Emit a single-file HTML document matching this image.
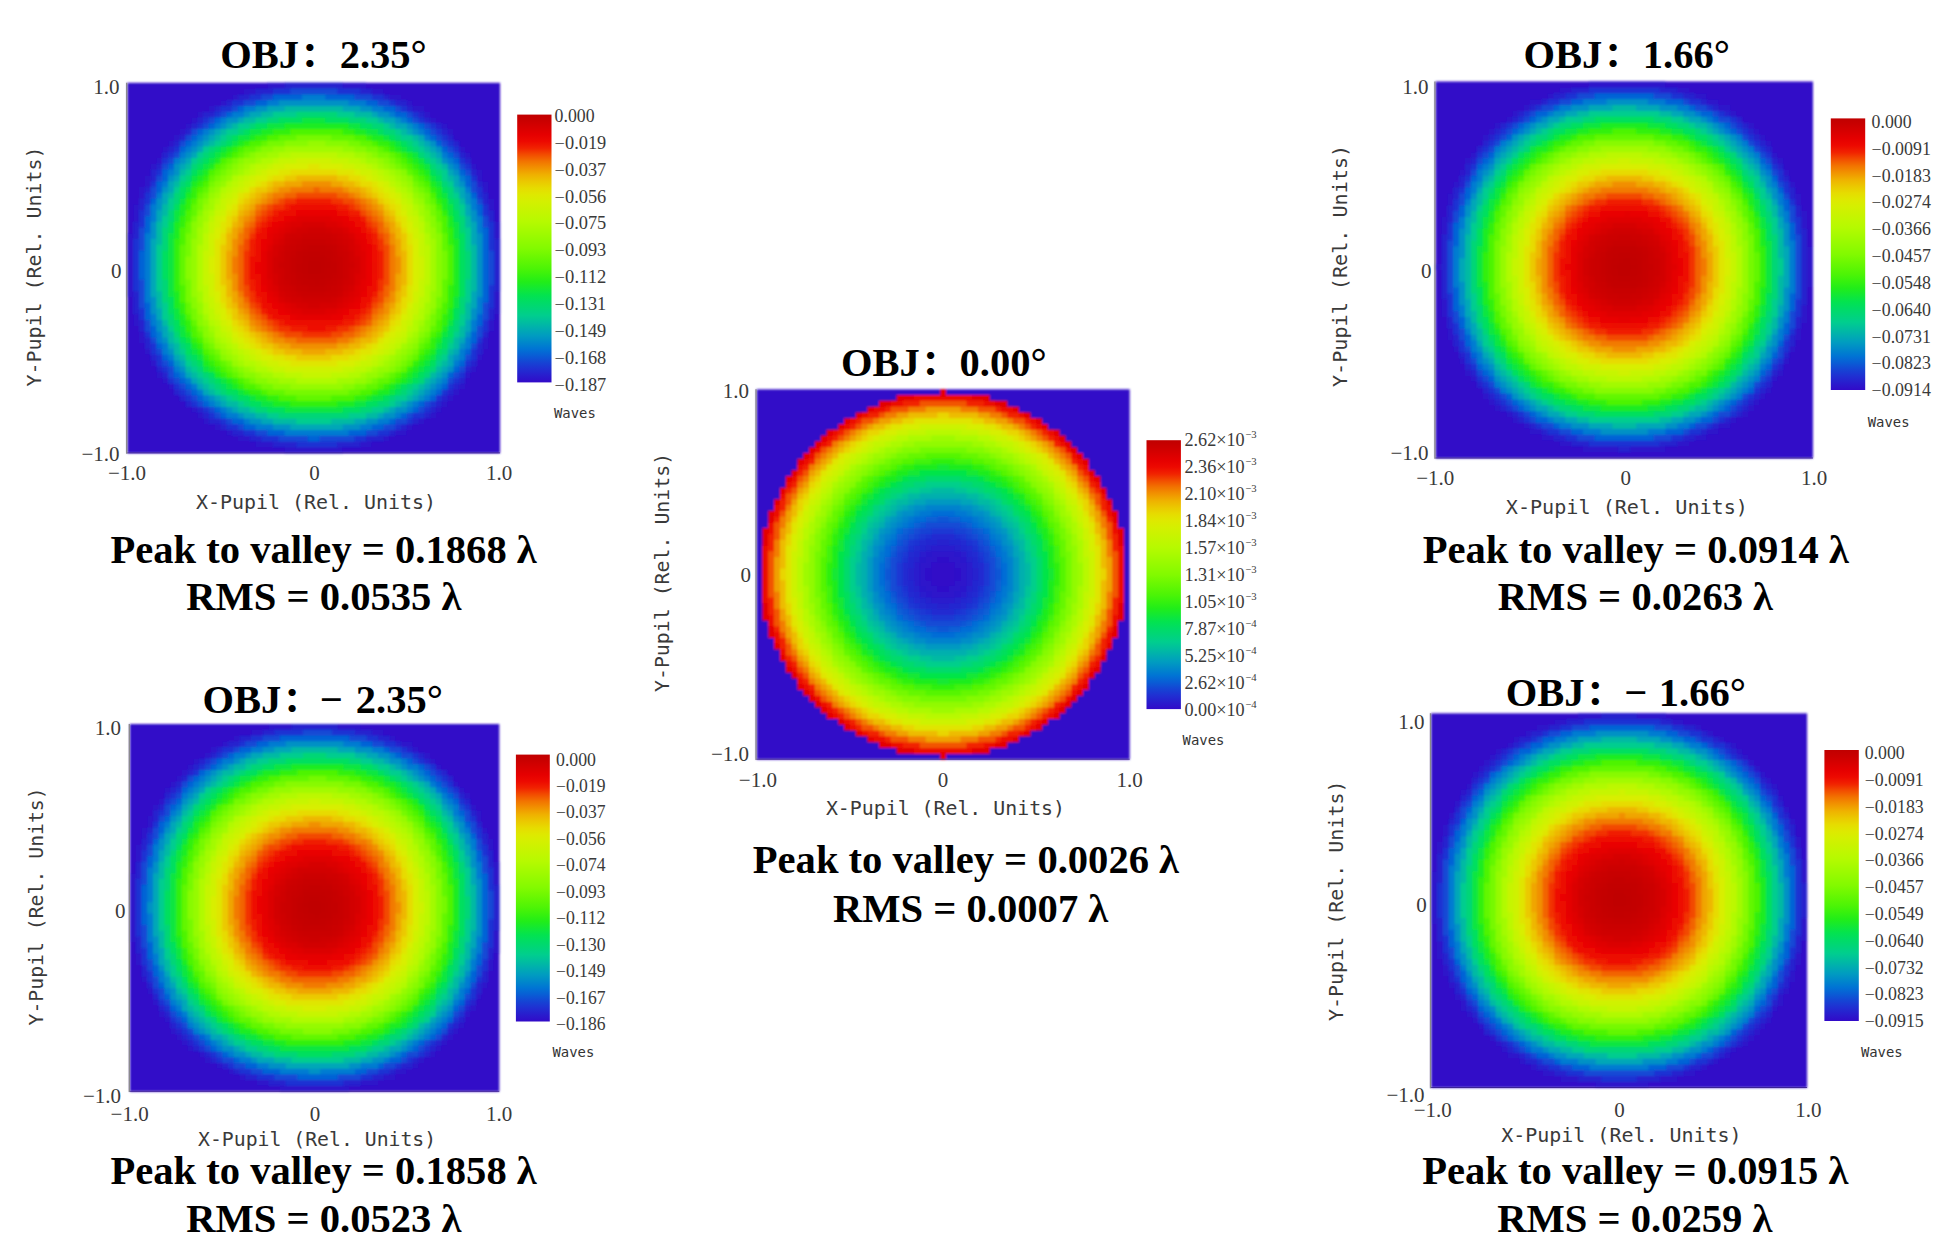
<!DOCTYPE html>
<html><head><meta charset="utf-8"><title>Wavefront maps</title>
<style>html,body{margin:0;padding:0;background:#fff}svg{display:block}</style></head>
<body><svg width="1952" height="1257" viewBox="0 0 1952 1257">
<defs><filter id="bl" x="-2%" y="-2%" width="104%" height="104%"><feGaussianBlur stdDeviation="1"/></filter>
<linearGradient id="cb" x1="0" y1="0" x2="0" y2="1"><stop offset="0.0000" stop-color="#c00000"/><stop offset="0.0250" stop-color="#cb0000"/><stop offset="0.0500" stop-color="#d80000"/><stop offset="0.0750" stop-color="#e50000"/><stop offset="0.1000" stop-color="#ed0900"/><stop offset="0.1250" stop-color="#f12200"/><stop offset="0.1500" stop-color="#f24d00"/><stop offset="0.1750" stop-color="#f27400"/><stop offset="0.2000" stop-color="#f19300"/><stop offset="0.2250" stop-color="#efb100"/><stop offset="0.2500" stop-color="#ebc800"/><stop offset="0.2750" stop-color="#e6dc00"/><stop offset="0.3000" stop-color="#dee900"/><stop offset="0.3250" stop-color="#d4f000"/><stop offset="0.3500" stop-color="#caf300"/><stop offset="0.3750" stop-color="#c0f700"/><stop offset="0.4000" stop-color="#b6fa00"/><stop offset="0.4250" stop-color="#a9fa00"/><stop offset="0.4500" stop-color="#9cfa00"/><stop offset="0.4750" stop-color="#8ffa00"/><stop offset="0.5000" stop-color="#82fa00"/><stop offset="0.5250" stop-color="#70f801"/><stop offset="0.5500" stop-color="#5ef603"/><stop offset="0.5750" stop-color="#4cf406"/><stop offset="0.6000" stop-color="#36f10e"/><stop offset="0.6250" stop-color="#21ed19"/><stop offset="0.6500" stop-color="#12e834"/><stop offset="0.6750" stop-color="#03e34f"/><stop offset="0.7000" stop-color="#00dc65"/><stop offset="0.7250" stop-color="#00d579"/><stop offset="0.7500" stop-color="#00ce8e"/><stop offset="0.7750" stop-color="#00be9f"/><stop offset="0.8000" stop-color="#00adb0"/><stop offset="0.8250" stop-color="#009cc0"/><stop offset="0.8500" stop-color="#0088ca"/><stop offset="0.8750" stop-color="#0074d4"/><stop offset="0.9000" stop-color="#095dd5"/><stop offset="0.9250" stop-color="#1544d4"/><stop offset="0.9500" stop-color="#202fd2"/><stop offset="0.9750" stop-color="#291ccd"/><stop offset="1.0000" stop-color="#320ac8"/></linearGradient></defs>
<rect width="1952" height="1257" fill="#fff"/>
<g filter="url(#bl)"><g transform="translate(127.30 82.80) scale(5.82500 5.78750)">
<rect width="64" height="64" fill="#320ac8"/>
<path fill="#2e12ca" d="M24 0H41V1H44V2H47V3H49V4H51V5H52V6H53V7H55V8H56V10H57V11H58V12H59V14H60V15H61V17H62V20H63V24H64V40H63V43H62V46H61V48H60V50H59V51H58V53H57V54H56V55H55V56H54V57H53V58H51V59H49V60H48V61H45V62H42V63H37V64H27V63H22V62H19V61H17V60H15V59H13V58H12V57H11V56H10V55H9V54H8V53H7V52H6V51H5V49H4V47H3V45H2V42H1V37H0V26H1V21H2V18H3V16H4V14H5V13H6V11H7V10H8V9H9V8H10V7H11V6H12V5H14V4H16V3H18V2H20V1H24V0Z"/>
<path fill="#2622ce" d="M27 0H37V1H42V2H45V3H48V4H49V5H51V6H52V7H54V8H55V9H56V10H57V12H58V13H59V15H60V17H61V19H62V22H63V27H64V36H63V41H62V44H61V47H60V49H59V50H58V52H57V53H56V54H55V55H54V56H53V57H52V58H50V59H48V60H46V61H44V62H40V63H25V62H21V61H18V60H16V59H14V58H13V57H12V56H10V55H9V54H8V52H7V51H6V50H5V48H4V46H3V43H2V40H1V24H2V20H3V18H4V15H5V14H6V12H7V11H8V10H9V9H10V8H11V7H12V6H13V5H15V4H17V3H19V2H22V1H27V0Z"/>
<path fill="#1e33d3" d="M25 1H40V2H44V3H46V4H48V5H50V6H51V7H53V8H54V9H55V10H56V11H57V13H58V14H59V16H60V18H61V21H62V24H63V39H62V43H61V45H60V48H59V49H58V51H57V52H56V53H55V54H54V55H53V56H52V57H51V58H49V59H47V60H45V61H41V62H36V63H29V62H23V61H20V60H17V59H16V58H14V57H13V56H11V55H10V54H9V53H8V52H7V50H6V49H5V47H4V44H3V41H2V36H1V27H2V22H3V19H4V17H5V15H6V13H7V12H8V11H9V10H10V9H11V8H12V7H13V6H15V5H16V4H18V3H21V2H25V1Z"/>
<path fill="#124ad5" d="M28 1H36V2H42V3H45V4H47V5H49V6H50V7H52V8H53V9H54V10H55V11H56V12H57V14H58V15H59V17H60V20H61V23H62V29H63V35H62V41H61V44H60V46H59V48H58V50H57V51H56V52H55V53H54V54H53V55H52V56H51V57H49V58H48V59H46V60H43V61H39V62H26V61H22V60H19V59H17V58H15V57H14V56H12V55H11V54H10V53H9V52H8V51H7V49H6V47H5V45H4V43H3V39H2V25H3V21H4V18H5V16H6V14H7V13H8V12H9V10H10V9H11V8H13V7H14V6H16V5H18V4H20V3H23V2H28V1Z"/>
<path fill="#0663d6" d="M25 2H39V3H43V4H46V5H48V6H49V7H51V8H52V9H53V10H54V11H55V12H56V13H57V15H58V16H59V19H60V21H61V25H62V38H61V42H60V45H59V47H58V49H57V50H56V51H55V53H54V54H53V55H51V56H50V57H48V58H46V59H44V60H41V61H33V62H31V61H24V60H20V59H18V58H16V57H15V56H13V55H12V54H11V53H10V52H9V51H8V49H7V48H6V46H5V44H4V41H3V34H2V29H3V23H4V20H5V17H6V15H7V14H8V13H9V11H10V10H11V9H12V8H14V7H15V6H17V5H19V4H22V3H25V2Z"/>
<path fill="#007bd1" d="M30 2H34V3H41V4H44V5H46V6H48V7H50V8H51V9H52V10H53V11H54V12H55V13H56V14H57V16H58V18H59V20H60V23H61V40H60V43H59V46H58V48H57V49H56V50H55V52H54V53H53V54H52V55H50V56H49V57H47V58H45V59H42V60H38V61H27V60H22V59H20V58H17V57H16V56H14V55H13V54H12V53H11V52H10V51H9V50H8V48H7V47H6V45H5V42H4V38H3V26H4V21H5V19H6V17H7V15H8V13H9V12H10V11H11V10H12V9H13V8H15V7H16V6H18V5H20V4H24V3H30V2Z"/>
<path fill="#0091c5" d="M26 3H38V4H42V5H45V6H47V7H49V8H50V9H51V10H53V11H54V13H55V14H56V15H57V17H58V19H59V22H60V26H61V37H60V41H59V44H58V46H57V48H56V50H55V51H54V52H53V53H52V54H51V55H49V56H48V57H46V58H43V59H40V60H25V59H21V58H19V57H17V56H15V55H14V54H13V53H12V52H11V51H10V50H9V49H8V47H7V45H6V43H5V40H4V24H5V20H6V18H7V16H8V14H9V13H10V12H11V11H12V10H13V9H14V8H16V7H17V6H20V5H22V4H26V3Z"/>
<path fill="#00a7b7" d="M24 4H40V5H43V6H46V7H48V8H49V9H51V10H52V11H53V12H54V14H55V15H56V16H57V18H58V21H59V24H60V39H59V43H58V45H57V47H56V49H55V50H54V51H53V52H52V53H51V54H50V55H48V56H46V57H44V58H41V59H37V60H28V59H23V58H20V57H18V56H16V55H15V54H13V53H12V52H11V51H10V49H9V48H8V46H7V44H6V41H5V37H4V27H5V22H6V19H7V17H8V16H9V14H10V13H11V12H12V11H13V10H14V9H15V8H17V7H19V6H21V5H24V4Z"/>
<path fill="#00baa3" d="M27 4H37V5H42V6H44V7H46V8H48V9H50V10H51V11H52V12H53V13H54V14H55V16H56V18H57V20H58V23H59V28H60V36H59V41H58V44H57V46H56V47H55V49H54V50H53V51H52V52H51V53H50V54H49V55H47V56H45V57H43V58H39V59H25V58H22V57H19V56H17V55H16V54H14V53H13V52H12V51H11V50H10V48H9V47H8V45H7V42H6V39H5V24H6V21H7V19H8V17H9V15H10V14H11V13H12V12H13V11H14V10H15V9H16V8H18V7H20V6H23V5H27V4Z"/>
<path fill="#00cd8f" d="M25 5H39V6H43V7H45V8H47V9H49V10H50V11H51V12H52V13H53V14H54V15H55V17H56V19H57V21H58V25H59V38H58V42H57V44H56V46H55V48H54V49H53V50H52V51H51V52H50V53H49V54H48V55H46V56H44V57H41V58H35V59H29V58H24V57H21V56H19V55H17V54H15V53H14V52H13V51H12V50H11V49H10V47H9V45H8V43H7V41H6V36H5V28H6V23H7V20H8V18H9V16H10V15H11V13H12V12H13V11H15V10H16V9H17V8H19V7H22V6H25V5Z"/>
<path fill="#00d676" d="M29 5H36V6H41V7H44V8H46V9H47V10H49V11H50V12H51V13H52V14H53V15H54V17H55V18H56V20H57V23H58V29H59V34H58V40H57V43H56V45H55V47H54V48H53V50H52V51H51V52H49V53H48V54H46V55H45V56H42V57H38V58H26V57H22V56H20V55H18V54H16V53H15V52H14V51H13V50H12V49H11V48H10V46H9V44H8V42H7V38H6V25H7V22H8V19H9V17H10V16H11V14H12V13H13V12H14V11H16V10H17V9H19V8H21V7H24V6H29V5Z"/>
<path fill="#00df5e" d="M26 6H38V7H42V8H44V9H46V10H48V11H49V12H50V13H51V14H52V15H53V16H54V18H55V20H56V22H57V26H58V37H57V41H56V44H55V46H54V47H53V49H52V50H51V51H50V52H48V53H47V54H45V55H43V56H40V57H24V56H21V55H19V54H17V53H16V52H15V51H14V50H13V49H12V48H11V47H10V45H9V43H8V40H7V34H6V29H7V24H8V21H9V18H10V17H11V15H12V14H13V13H14V12H15V11H17V10H18V9H20V8H22V7H26V6Z"/>
<path fill="#0be641" d="M30 6H34V7H40V8H43V9H45V10H47V11H48V12H50V13H51V14H52V16H53V17H54V19H55V21H56V24H57V39H56V42H55V44H54V46H53V48H52V49H51V50H50V51H49V52H47V53H46V54H44V55H41V56H37V57H27V56H23V55H21V54H19V53H17V52H16V51H15V50H13V48H12V47H11V45H10V44H9V41H8V37H7V26H8V22H9V20H10V18H11V16H12V15H13V14H14V13H15V12H16V11H18V10H19V9H21V8H24V7H30V6Z"/>
<path fill="#1dec21" d="M27 7H38V8H41V9H44V10H46V11H47V12H49V13H50V14H51V15H52V17H53V18H54V20H55V23H56V27H57V37H56V41H55V43H54V45H53V47H52V48H51V49H50V50H49V51H48V52H46V53H45V54H42V55H39V56H25V55H22V54H20V53H18V52H17V51H15V50H14V49H13V47H12V46H11V44H10V42H9V39H8V24H9V21H10V19H11V17H12V16H13V15H14V14H15V13H16V12H17V11H19V10H21V9H23V8H27V7Z"/>
<path fill="#33f00f" d="M25 8H39V9H42V10H45V11H46V12H48V13H49V14H50V15H51V16H52V18H53V20H54V22H55V25H56V39H55V42H54V44H53V46H52V47H51V48H50V49H49V50H48V51H47V52H45V53H43V54H41V55H36V56H28V55H24V54H21V53H19V52H18V51H16V50H15V49H14V48H13V46H12V45H11V43H10V40H9V36H8V27H9V23H10V20H11V18H12V17H13V16H14V15H15V14H16V13H17V12H18V11H20V10H22V9H25V8Z"/>
<path fill="#4df405" d="M28 8H37V9H41V10H43V11H45V12H47V13H48V14H49V15H50V16H51V17H52V19H53V21H54V23H55V28H56V35H55V40H54V43H53V44H52V46H51V47H50V48H49V49H48V50H47V51H46V52H44V53H42V54H39V55H26V54H23V53H20V52H19V51H17V50H16V49H15V48H14V47H13V45H12V44H11V41H10V38H9V25H10V22H11V20H12V18H13V17H14V15H15V14H16V13H18V12H19V11H21V10H24V9H28V8Z"/>
<path fill="#62f703" d="M26 9H39V10H42V11H44V12H46V13H47V14H48V15H49V16H50V17H51V18H52V20H53V22H54V26H55V38H54V41H53V43H52V45H51V46H50V48H49V49H48V50H46V51H45V52H43V53H40V54H35V55H29V54H24V53H22V52H20V51H18V50H17V49H16V48H15V47H14V46H13V44H12V42H11V40H10V35H9V28H10V24H11V21H12V19H13V18H14V16H15V15H16V14H17V13H19V12H20V11H23V10H26V9Z"/>
<path fill="#76f901" d="M29 9H35V10H40V11H43V12H45V13H46V14H47V15H48V16H49V17H50V18H51V19H52V21H53V24H54V29H55V34H54V39H53V42H52V44H51V45H50V47H49V48H48V49H47V50H45V51H43V52H41V53H38V54H27V53H23V52H21V51H19V50H18V49H17V48H16V47H15V46H14V45H13V43H12V41H11V38H10V26H11V23H12V20H13V19H14V17H15V16H16V15H17V14H18V13H20V12H22V11H24V10H29V9Z"/>
<path fill="#88fa00" d="M27 10H38V11H41V12H43V13H45V14H46V15H48V16H49V18H50V19H51V21H52V23H53V26H54V37H53V40H52V43H51V44H50V46H49V47H48V48H47V49H46V50H44V51H42V52H39V53H25V52H22V51H20V50H19V49H18V48H16V46H15V45H14V44H13V42H12V39H11V34H10V30H11V24H12V22H13V20H14V18H15V17H16V16H17V15H18V14H19V13H21V12H23V11H27V10Z"/>
<path fill="#96fa00" d="M31 10H34V11H39V12H42V13H44V14H45V15H47V16H48V17H49V19H50V20H51V22H52V25H53V39H52V41H51V43H50V45H49V46H48V47H47V48H46V49H45V50H43V51H41V52H37V53H28V52H24V51H22V50H20V49H18V48H17V47H16V46H15V44H14V42H13V40H12V37H11V27H12V23H13V21H14V19H15V18H16V17H17V16H18V15H19V14H20V13H22V12H25V11H31V10Z"/>
<path fill="#a3fa00" d="M27 11H37V12H41V13H43V14H44V15H46V16H47V17H48V18H49V20H50V21H51V24H52V27H53V36H52V40H51V42H50V44H49V45H48V46H47V47H46V48H45V49H43V50H41V51H39V52H26V51H23V50H21V49H19V48H18V47H17V46H16V45H15V43H14V41H13V38H12V25H13V22H14V20H15V19H16V18H17V17H18V16H19V15H20V14H22V13H24V12H27V11Z"/>
<path fill="#b1fa00" d="M26 12H39V13H41V14H43V15H45V16H46V17H47V18H48V19H49V21H50V23H51V26H52V38H51V41H50V43H49V44H48V45H47V46H46V47H45V48H44V49H42V50H40V51H36V52H29V51H25V50H22V49H20V48H19V47H18V46H17V45H16V44H15V42H14V40H13V36H12V28H13V24H14V22H15V20H16V18H17V17H18V16H20V15H21V14H23V13H26V12Z"/>
<path fill="#bcf800" d="M28 12H36V13H40V14H42V15H44V16H45V17H46V18H47V19H48V20H49V22H50V24H51V28H52V35H51V39H50V41H49V43H48V45H47V46H46V47H44V48H43V49H41V50H38V51H27V50H24V49H22V48H20V47H19V46H18V45H17V44H16V42H15V41H14V38H13V26H14V23H15V21H16V19H17V18H18V17H19V16H21V15H22V14H25V13H28V12Z"/>
<path fill="#c6f500" d="M26 13H38V14H41V15H43V16H44V17H45V18H46V19H47V20H48V21H49V23H50V26H51V37H50V40H49V42H48V44H47V45H46V46H45V47H43V48H42V49H39V50H35V51H30V50H25V49H23V48H21V47H20V46H19V45H18V44H17V43H16V41H15V39H14V35H13V29H14V24H15V22H16V20H17V19H18V18H19V17H20V16H22V15H24V14H26V13Z"/>
<path fill="#cff200" d="M29 13H35V14H39V15H42V16H43V17H45V18H46V19H47V21H48V23H49V25H50V30H51V34H50V38H49V41H48V43H47V44H46V45H45V46H44V47H42V48H40V49H37V50H27V49H24V48H22V47H21V46H19V45H18V43H17V42H16V40H15V37H14V26H15V23H16V22H17V20H18V19H19V18H20V17H21V16H23V15H25V14H29V13Z"/>
<path fill="#d8ef00" d="M27 14H37V15H40V16H42V17H44V18H45V19H46V20H47V22H48V24H49V27H50V36H49V39H48V41H47V43H46V44H45V45H44V46H43V47H41V48H39V49H26V48H23V47H22V46H20V45H19V44H18V42H17V41H16V38H15V33H14V30H15V25H16V23H17V21H18V20H19V19H20V18H21V17H22V16H24V15H27V14Z"/>
<path fill="#e0e500" d="M31 14H33V15H39V16H41V17H43V18H44V19H45V20H46V21H47V23H48V26H49V38H48V40H47V42H46V43H45V44H44V45H43V46H42V47H40V48H36V49H28V48H25V47H23V46H21V45H20V44H19V43H18V41H17V39H16V36H15V27H16V24H17V22H18V21H19V19H21V18H22V17H24V16H26V15H31V14Z"/>
<path fill="#e7db00" d="M28 15H36V16H40V17H42V18H43V19H44V20H45V21H46V23H47V25H48V28H49V35H48V39H47V41H46V42H45V43H44V44H43V45H42V46H40V47H38V48H27V47H24V46H22V45H21V44H20V43H19V42H18V40H17V38H16V26H17V23H18V22H19V20H20V19H21V18H23V17H25V16H28V15Z"/>
<path fill="#ebc900" d="M27 16H38V17H40V18H42V19H43V20H44V21H45V22H46V24H47V26H48V37H47V40H46V41H45V43H44V44H43V45H41V46H39V47H35V48H29V47H25V46H23V45H22V44H21V43H20V42H19V41H18V39H17V35H16V28H17V25H18V23H19V21H20V20H21V19H22V18H24V17H27V16Z"/>
<path fill="#eeb700" d="M29 16H36V17H39V18H41V19H42V20H43V21H44V22H45V23H46V25H47V29H48V35H47V38H46V40H45V42H44V43H43V44H42V45H40V46H37V47H27V46H25V45H23V44H22V43H21V42H20V41H19V39H18V37H17V26H18V24H19V22H20V21H21V20H22V19H24V18H25V17H29V16Z"/>
<path fill="#f0a500" d="M27 17H37V18H40V19H41V20H43V21H44V23H45V24H46V27H47V36H46V39H45V41H44V42H43V43H42V44H40V45H38V46H34V47H30V46H26V45H24V44H23V43H21V41H20V40H19V38H18V34H17V29H18V25H19V23H20V22H21V21H22V20H23V19H25V18H27V17Z"/>
<path fill="#f18f00" d="M30 17H35V18H38V19H40V20H42V21H43V22H44V24H45V26H46V30H47V33H46V38H45V40H44V41H43V42H42V43H41V44H39V45H36V46H28V45H25V44H24V43H22V42H21V40H20V39H19V36H18V27H19V25H20V23H21V22H22V21H23V20H24V19H26V18H30V17Z"/>
<path fill="#f27a00" d="M28 18H37V19H39V20H41V21H42V22H43V23H44V25H45V28H46V36H45V38H44V40H43V41H42V42H41V43H40V44H38V45H27V44H25V43H23V42H22V41H21V39H20V37H19V33H18V30H19V26H20V24H21V23H22V21H24V20H25V19H28V18Z"/>
<path fill="#f26300" d="M32 18H33V19H38V20H40V21H41V22H42V23H43V24H44V26H45V37H44V39H43V40H42V42H40V43H39V44H36V45H29V44H26V43H24V42H23V41H22V40H21V38H20V36H19V28H20V25H21V24H22V22H23V21H25V20H27V19H32V18Z"/>
<path fill="#f24a00" d="M29 19H36V20H39V21H40V22H41V23H42V24H43V26H44V28H45V35H44V38H43V39H42V41H41V42H39V43H37V44H27V43H25V42H24V41H23V40H22V39H21V37H20V27H21V25H22V23H23V22H24V21H26V20H29V19Z"/>
<path fill="#f23200" d="M27 20H37V21H39V22H40V23H41V24H42V25H43V27H44V36H43V38H42V40H41V41H40V42H38V43H35V44H30V43H26V42H25V41H24V40H23V39H22V38H21V35H20V29H21V26H22V24H23V23H24V22H25V21H27V20Z"/>
<path fill="#f01a00" d="M29 20H35V21H38V22H40V23H41V25H42V26H43V29H44V34H43V37H42V39H41V40H40V41H39V42H36V43H28V42H26V41H24V40H23V38H22V36H21V27H22V25H23V24H24V23H25V22H27V21H29V20Z"/>
<path fill="#ee0d00" d="M28 21H36V22H38V23H40V24H41V26H42V28H43V36H42V38H41V39H40V40H39V41H37V42H34V43H31V42H27V41H25V40H24V39H23V37H22V34H21V30H22V26H23V25H24V24H25V23H26V22H28V21Z"/>
<path fill="#ec0700" d="M30 21H34V22H37V23H39V24H40V25H41V27H42V31H43V33H42V37H41V38H40V39H39V40H38V41H36V42H29V41H26V40H25V39H24V38H23V35H22V28H23V26H24V24H26V23H27V22H30V21Z"/>
<path fill="#e90200" d="M29 22H36V23H38V24H39V25H40V26H41V28H42V35H41V37H40V39H38V40H37V41H28V40H26V39H25V38H24V36H23V33H22V31H23V27H24V25H25V24H27V23H29V22Z"/>
<path fill="#e50000" d="M28 23H37V24H38V25H39V26H40V27H41V36H40V38H39V39H37V40H35V41H29V40H27V39H26V38H25V37H24V35H23V29H24V26H25V25H26V24H28V23Z"/>
<path fill="#e00000" d="M29 23H35V24H37V25H38V26H39V27H40V29H41V34H40V37H39V38H38V39H36V40H28V39H27V38H26V37H25V36H24V28H25V26H26V25H27V24H29V23Z"/>
<path fill="#db0000" d="M28 24H36V25H38V26H39V28H40V35H39V37H38V38H37V39H34V40H30V39H28V38H26V36H25V34H24V29H25V27H26V26H27V25H28V24Z"/>
<path fill="#d60000" d="M30 24H34V25H37V26H38V27H39V30H40V33H39V36H38V37H37V38H36V39H29V38H27V37H26V35H25V28H26V27H27V26H28V25H30V24Z"/>
<path fill="#d20000" d="M29 25H35V26H37V27H38V29H39V35H38V36H37V37H36V38H33V39H31V38H28V37H27V36H26V33H25V30H26V28H27V26H29V25Z"/>
<path fill="#cf0000" d="M31 25H34V26H36V27H37V28H38V31H39V32H38V35H37V37H35V38H30V37H28V36H27V35H26V29H27V27H28V26H31V25Z"/>
<path fill="#cc0000" d="M30 26H35V27H36V28H37V29H38V34H37V36H36V37H29V36H28V35H27V32H26V31H27V28H28V27H30V26Z"/>
<path fill="#ca0000" d="M29 27H35V28H36V29H37V35H36V36H34V37H30V36H29V35H28V34H27V29H28V28H29V27Z"/>
<path fill="#c80000" d="M30 27H34V28H36V30H37V34H36V35H35V36H29V35H28V29H29V28H30V27Z"/>
<path fill="#c60000" d="M30 28H35V29H36V34H35V35H34V36H31V35H29V33H28V30H29V29H30V28Z"/>
<path fill="#c40000" d="M31 28H34V29H35V31H36V33H35V34H34V35H30V34H29V29H31V28Z"/>
<path fill="#c30000" d="M30 29H34V30H35V34H33V35H32V34H30V33H29V31H30V29Z"/>
<path fill="#c20000" d="M31 29H33V30H34V31H35V32H34V34H31V33H30V30H31V29Z"/>
<path fill="#c10000" d="M31 30H34V33H31V30Z"/>
<path fill="#c00000" d="M31 31H33V33H31V31Z"/>
<path fill="#c00000" d="M32 31H33V32H32V31Z"/>
</g></g>
<path d="M126.70 82.80V453.70" fill="none" stroke="#888" stroke-width="1.3"/>
<path d="M127.30 452.90H500.10" fill="none" stroke="#1c0078" stroke-width="1" opacity="0.7"/>
<rect x="517.20" y="114.60" width="34.30" height="267.80" fill="url(#cb)"/>
<text x="554.60" y="121.80" font-family="'Liberation Serif','Noto Serif CJK SC',serif" font-size="17.8" fill="#3a3a3a">0.000</text>
<text x="554.60" y="148.70" font-family="'Liberation Serif','Noto Serif CJK SC',serif" font-size="17.8" fill="#3a3a3a" textLength="51.7" lengthAdjust="spacingAndGlyphs">−0.019</text>
<text x="554.60" y="175.60" font-family="'Liberation Serif','Noto Serif CJK SC',serif" font-size="17.8" fill="#3a3a3a" textLength="51.7" lengthAdjust="spacingAndGlyphs">−0.037</text>
<text x="554.60" y="202.50" font-family="'Liberation Serif','Noto Serif CJK SC',serif" font-size="17.8" fill="#3a3a3a" textLength="51.7" lengthAdjust="spacingAndGlyphs">−0.056</text>
<text x="554.60" y="229.40" font-family="'Liberation Serif','Noto Serif CJK SC',serif" font-size="17.8" fill="#3a3a3a" textLength="51.7" lengthAdjust="spacingAndGlyphs">−0.075</text>
<text x="554.60" y="256.30" font-family="'Liberation Serif','Noto Serif CJK SC',serif" font-size="17.8" fill="#3a3a3a" textLength="51.7" lengthAdjust="spacingAndGlyphs">−0.093</text>
<text x="554.60" y="283.20" font-family="'Liberation Serif','Noto Serif CJK SC',serif" font-size="17.8" fill="#3a3a3a" textLength="51.7" lengthAdjust="spacingAndGlyphs">−0.112</text>
<text x="554.60" y="310.10" font-family="'Liberation Serif','Noto Serif CJK SC',serif" font-size="17.8" fill="#3a3a3a" textLength="51.7" lengthAdjust="spacingAndGlyphs">−0.131</text>
<text x="554.60" y="337.00" font-family="'Liberation Serif','Noto Serif CJK SC',serif" font-size="17.8" fill="#3a3a3a" textLength="51.7" lengthAdjust="spacingAndGlyphs">−0.149</text>
<text x="554.60" y="363.90" font-family="'Liberation Serif','Noto Serif CJK SC',serif" font-size="17.8" fill="#3a3a3a" textLength="51.7" lengthAdjust="spacingAndGlyphs">−0.168</text>
<text x="554.60" y="390.80" font-family="'Liberation Serif','Noto Serif CJK SC',serif" font-size="17.8" fill="#3a3a3a" textLength="51.7" lengthAdjust="spacingAndGlyphs">−0.187</text>
<text x="554.00" y="418.00" font-family="'DejaVu Sans Mono','Liberation Mono',monospace" font-size="13.9" fill="#333">Waves</text>
<text x="220.30" y="67.50" font-family="'Liberation Serif','Noto Serif CJK SC',serif" font-size="40.5" font-weight="bold" fill="#000">OBJ：</text>
<text x="339.70" y="67.50" font-family="'Liberation Serif','Noto Serif CJK SC',serif" font-size="40.5" font-weight="bold" fill="#000">2.35°</text>
<text x="119.50" y="93.70" font-family="'Liberation Serif','Noto Serif CJK SC',serif" font-size="21" fill="#3a3a3a" text-anchor="end">1.0</text>
<text x="121.50" y="278.00" font-family="'Liberation Serif','Noto Serif CJK SC',serif" font-size="21" fill="#3a3a3a" text-anchor="end">0</text>
<text x="119.50" y="460.60" font-family="'Liberation Serif','Noto Serif CJK SC',serif" font-size="21" fill="#3a3a3a" text-anchor="end">−1.0</text>
<text x="127.00" y="480.00" font-family="'Liberation Serif','Noto Serif CJK SC',serif" font-size="21" fill="#3a3a3a" text-anchor="middle">−1.0</text>
<text x="314.50" y="480.00" font-family="'Liberation Serif','Noto Serif CJK SC',serif" font-size="21" fill="#3a3a3a" text-anchor="middle">0</text>
<text x="499.00" y="480.00" font-family="'Liberation Serif','Noto Serif CJK SC',serif" font-size="21" fill="#3a3a3a" text-anchor="middle">1.0</text>
<text x="196.00" y="509.00" font-family="'DejaVu Sans Mono','Liberation Mono',monospace" font-size="19.95" fill="#3a3a3a">X-Pupil (Rel. Units)</text>
<text transform="translate(41.00 386.50) rotate(-90)" font-family="'DejaVu Sans Mono','Liberation Mono',monospace" font-size="19.95" fill="#3a3a3a">Y-Pupil (Rel. Units)</text>
<text x="110.50" y="563.00" font-family="'Liberation Serif','Noto Serif CJK SC',serif" font-size="40.6" font-weight="bold" fill="#000">Peak to valley = 0.1868 λ</text>
<text x="186.20" y="610.30" font-family="'Liberation Serif','Noto Serif CJK SC',serif" font-size="40.6" font-weight="bold" fill="#000">RMS = 0.0535 λ</text>
<g filter="url(#bl)"><g transform="translate(129.90 724.00) scale(5.77187 5.74375)">
<rect width="64" height="64" fill="#320ac8"/>
<path fill="#2e12ca" d="M24 0H40V1H44V2H46V3H49V4H50V5H52V6H53V7H54V8H55V9H56V10H57V11H58V12H59V14H60V15H61V18H62V20H63V24H64V40H63V43H62V46H61V48H60V50H59V51H58V53H57V54H56V55H55V56H54V57H53V58H51V59H50V60H48V61H46V62H43V63H38V64H26V63H22V62H19V61H17V60H15V59H13V58H12V57H10V56H9V55H8V54H7V52H6V51H5V49H4V47H3V45H2V42H1V38H0V26H1V21H2V18H3V16H4V14H5V13H6V11H7V10H8V9H9V8H10V7H11V6H13V5H14V4H16V3H18V2H21V1H24V0Z"/>
<path fill="#2622ce" d="M28 0H36V1H42V2H45V3H47V4H49V5H51V6H52V7H53V8H55V9H56V11H57V12H58V13H59V15H60V17H61V19H62V22H63V28H64V36H63V41H62V45H61V47H60V49H59V50H58V52H57V53H56V54H55V55H54V56H53V57H52V58H50V59H49V60H46V61H44V62H40V63H24V62H20V61H18V60H16V59H14V58H13V57H11V56H10V55H9V54H8V53H7V51H6V50H5V48H4V46H3V44H2V40H1V24H2V20H3V18H4V15H5V14H6V12H7V11H8V10H9V9H10V8H11V7H12V6H14V5H15V4H17V3H19V2H23V1H28V0Z"/>
<path fill="#1e33d3" d="M25 1H39V2H43V3H46V4H48V5H50V6H51V7H53V8H54V9H55V10H56V11H57V13H58V14H59V16H60V18H61V21H62V25H63V39H62V43H61V45H60V48H59V49H58V51H57V52H56V53H55V54H54V55H53V56H52V57H51V58H49V59H47V60H45V61H42V62H37V63H27V62H22V61H19V60H17V59H15V58H14V57H12V56H11V55H10V54H9V53H8V52H7V50H6V49H5V47H4V45H3V42H2V37H1V27H2V22H3V19H4V17H5V15H6V13H7V12H8V11H9V10H10V9H11V8H12V7H13V6H15V5H16V4H19V3H21V2H25V1Z"/>
<path fill="#124ad5" d="M30 1H35V2H41V3H44V4H47V5H49V6H50V7H52V8H53V9H54V10H55V11H56V12H57V14H58V15H59V17H60V20H61V23H62V29H63V34H62V41H61V44H60V46H59V48H58V50H57V51H56V52H55V54H54V55H52V56H51V57H50V58H48V59H46V60H43V61H40V62H25V61H21V60H18V59H16V58H15V57H13V56H12V55H11V54H10V53H9V52H8V51H7V49H6V48H5V46H4V43H3V39H2V24H3V21H4V18H5V16H6V14H7V13H8V12H9V10H10V9H12V8H13V7H14V6H16V5H18V4H20V3H23V2H30V1Z"/>
<path fill="#0663d6" d="M26 2H38V3H42V4H45V5H47V6H49V7H51V8H52V9H53V10H54V11H55V12H56V13H57V15H58V17H59V19H60V22H61V26H62V38H61V42H60V45H59V47H58V49H57V50H56V52H55V53H54V54H53V55H51V56H50V57H48V58H47V59H44V60H41V61H36V62H29V61H23V60H20V59H18V58H16V57H14V56H13V55H12V54H11V53H10V52H9V51H8V50H7V48H6V46H5V44H4V41H3V35H2V28H3V23H4V20H5V17H6V16H7V14H8V13H9V11H10V10H11V9H12V8H14V7H15V6H17V5H19V4H22V3H26V2Z"/>
<path fill="#007bd1" d="M24 3H40V4H44V5H46V6H48V7H50V8H51V9H52V10H53V11H54V12H55V13H56V14H57V16H58V18H59V20H60V24H61V40H60V43H59V46H58V48H57V49H56V51H55V52H54V53H53V54H52V55H50V56H49V57H47V58H45V59H43V60H39V61H26V60H22V59H19V58H17V57H15V56H14V55H13V54H11V53H10V51H9V50H8V49H7V47H6V45H5V42H4V38H3V25H4V21H5V19H6V17H7V15H8V14H9V12H10V11H11V10H12V9H13V8H15V7H16V6H18V5H21V4H24V3Z"/>
<path fill="#0091c5" d="M27 3H37V4H42V5H45V6H47V7H48V8H50V9H51V10H52V11H53V12H54V13H55V14H56V16H57V17H58V19H59V22H60V27H61V37H60V41H59V44H58V46H57V48H56V50H55V51H54V52H53V53H52V54H51V55H49V56H48V57H46V58H44V59H40V60H33V61H31V60H24V59H21V58H18V57H16V56H15V55H14V54H12V53H11V52H10V50H9V49H8V48H7V46H6V43H5V40H4V33H3V31H4V24H5V20H6V18H7V16H8V15H9V13H10V12H11V11H12V10H13V9H14V8H16V7H18V6H20V5H23V4H27V3Z"/>
<path fill="#00a7b7" d="M25 4H39V5H43V6H45V7H47V8H49V9H50V10H52V11H53V12H54V14H55V15H56V17H57V19H58V21H59V25H60V39H59V43H58V45H57V47H56V49H55V50H54V51H53V52H52V53H51V54H50V55H48V56H47V57H45V58H42V59H38V60H27V59H22V58H20V57H18V56H16V55H14V54H13V53H12V52H11V51H10V50H9V48H8V46H7V44H6V42H5V37H4V26H5V22H6V19H7V17H8V16H9V14H10V13H11V12H12V11H13V10H14V9H15V8H17V7H19V6H21V5H25V4Z"/>
<path fill="#00baa3" d="M28 4H36V5H41V6H44V7H46V8H48V9H49V10H51V11H52V12H53V13H54V15H55V16H56V18H57V20H58V23H59V28H60V36H59V41H58V44H57V46H56V48H55V49H54V50H53V51H52V52H51V53H50V54H49V55H47V56H45V57H43V58H40V59H25V58H21V57H19V56H17V55H16V54H14V53H13V52H12V51H11V50H10V48H9V47H8V45H7V43H6V39H5V24H6V21H7V19H8V17H9V15H10V14H11V13H12V12H13V11H14V10H15V9H16V8H18V7H20V6H23V5H28V4Z"/>
<path fill="#00cd8f" d="M26 5H39V6H42V7H45V8H47V9H48V10H50V11H51V12H52V13H53V14H54V16H55V17H56V19H57V22H58V25H59V38H58V42H57V44H56V46H55V48H54V49H53V51H52V52H50V53H49V54H48V55H46V56H44V57H41V58H37V59H28V58H23V57H20V56H18V55H17V54H15V53H14V52H13V51H12V50H11V49H10V47H9V46H8V44H7V41H6V36H5V27H6V23H7V20H8V18H9V16H10V15H11V14H12V12H13V11H15V10H16V9H18V8H20V7H22V6H26V5Z"/>
<path fill="#00d676" d="M30 5H34V6H40V7H43V8H45V9H47V10H49V11H50V12H51V13H52V14H53V15H54V17H55V19H56V21H57V24H58V30H59V34H58V40H57V43H56V45H55V47H54V48H53V50H52V51H51V52H50V53H48V54H47V55H45V56H42V57H39V58H25V57H22V56H20V55H18V54H16V53H15V52H14V51H13V50H12V49H11V48H10V46H9V44H8V42H7V39H6V25H7V22H8V19H9V17H10V16H11V14H12V13H13V12H14V11H16V10H17V9H19V8H21V7H24V6H30V5Z"/>
<path fill="#00df5e" d="M27 6H38V7H42V8H44V9H46V10H48V11H49V12H50V13H51V14H52V15H53V16H54V18H55V20H56V22H57V26H58V37H57V41H56V44H55V46H54V47H53V49H52V50H51V51H50V52H49V53H47V54H45V55H43V56H41V57H35V58H29V57H24V56H21V55H19V54H17V53H16V52H15V51H13V49H12V48H11V47H10V45H9V43H8V40H7V35H6V29H7V23H8V21H9V19H10V17H11V15H12V14H13V13H14V12H15V11H17V10H18V9H20V8H23V7H27V6Z"/>
<path fill="#0be641" d="M25 7H40V8H43V9H45V10H47V11H48V12H49V13H50V14H51V15H52V16H53V17H54V19H55V21H56V24H57V39H56V42H55V45H54V46H53V48H52V49H51V50H50V51H49V52H48V53H46V54H44V55H42V56H38V57H26V56H23V55H20V54H18V53H17V52H15V51H14V50H13V49H12V47H11V46H10V44H9V41H8V38H7V26H8V22H9V20H10V18H11V16H12V15H13V14H14V13H15V12H16V11H18V10H19V9H22V8H25V7Z"/>
<path fill="#1dec21" d="M28 7H37V8H41V9H44V10H46V11H47V12H48V13H50V14H51V16H52V17H53V18H54V20H55V23H56V27H57V36H56V41H55V43H54V45H53V47H52V48H51V49H50V50H49V51H48V52H47V53H45V54H43V55H40V56H25V55H22V54H19V53H18V52H16V51H15V50H14V49H13V48H12V46H11V45H10V42H9V39H8V24H9V21H10V19H11V17H12V16H13V15H14V14H15V13H16V12H17V11H19V10H21V9H23V8H28V7Z"/>
<path fill="#33f00f" d="M26 8H39V9H42V10H44V11H46V12H47V13H49V14H50V15H51V17H52V18H53V20H54V22H55V25H56V38H55V42H54V44H53V46H52V47H51V48H50V49H49V50H48V51H47V52H45V53H44V54H41V55H37V56H27V55H23V54H21V53H19V52H17V51H16V50H15V49H14V48H13V47H12V45H11V43H10V41H9V37H8V27H9V23H10V20H11V19H12V17H13V16H14V15H15V14H16V13H17V12H18V11H20V10H22V9H26V8Z"/>
<path fill="#4df405" d="M29 8H36V9H40V10H43V11H45V12H46V13H48V14H49V15H50V16H51V18H52V19H53V21H54V24H55V28H56V35H55V40H54V43H53V45H52V46H51V47H50V49H49V50H47V51H46V52H44V53H42V54H39V55H25V54H22V53H20V52H18V51H17V50H16V49H15V48H14V47H13V46H12V44H11V42H10V39H9V25H10V22H11V20H12V18H13V17H14V15H15V14H17V13H18V12H19V11H21V10H24V9H29V8Z"/>
<path fill="#62f703" d="M26 9H38V10H41V11H44V12H45V13H47V14H48V15H49V16H50V17H51V19H52V20H53V23H54V26H55V38H54V41H53V43H52V45H51V46H50V48H49V49H48V50H46V51H45V52H43V53H40V54H36V55H28V54H24V53H21V52H19V51H18V50H17V49H16V48H15V47H14V46H13V45H12V43H11V40H10V36H9V28H10V24H11V21H12V19H13V18H14V16H15V15H16V14H18V13H19V12H21V11H23V10H26V9Z"/>
<path fill="#76f901" d="M31 9H34V10H40V11H42V12H44V13H46V14H47V15H48V16H49V17H50V18H51V20H52V22H53V24H54V30H55V33H54V39H53V42H52V44H51V46H50V47H49V48H48V49H47V50H45V51H44V52H41V53H38V54H26V53H23V52H21V51H19V50H18V49H16V48H15V46H14V45H13V43H12V41H11V38H10V26H11V23H12V20H13V19H14V17H15V16H16V15H17V14H18V13H20V12H22V11H25V10H31V9Z"/>
<path fill="#88fa00" d="M27 10H37V11H41V12H43V13H45V14H46V15H47V16H48V17H49V18H50V19H51V21H52V23H53V27H54V37H53V40H52V43H51V44H50V46H49V47H48V48H47V49H46V50H44V51H42V52H40V53H35V54H30V53H25V52H22V51H20V50H19V49H17V48H16V47H15V45H14V44H13V42H12V39H11V34H10V29H11V24H12V22H13V20H14V18H15V17H16V16H17V15H18V14H20V13H21V12H24V11H27V10Z"/>
<path fill="#96fa00" d="M25 11H39V12H42V13H44V14H45V15H47V16H48V17H49V19H50V20H51V22H52V25H53V39H52V41H51V43H50V45H49V46H48V47H47V48H46V49H45V50H43V51H41V52H37V53H27V52H23V51H21V50H20V49H18V48H17V47H16V46H15V44H14V43H13V41H12V37H11V27H12V23H13V21H14V19H15V18H16V17H17V16H18V15H19V14H21V13H23V12H25V11Z"/>
<path fill="#a3fa00" d="M28 11H36V12H40V13H42V14H44V15H46V16H47V17H48V18H49V20H50V22H51V24H52V28H53V36H52V40H51V42H50V44H49V45H48V46H47V47H46V48H45V49H44V50H42V51H39V52H25V51H23V50H21V49H19V48H18V47H17V46H16V45H15V43H14V41H13V39H12V25H13V22H14V20H15V19H16V18H17V17H18V16H19V15H20V14H22V13H24V12H28V11Z"/>
<path fill="#b1fa00" d="M26 12H38V13H41V14H43V15H45V16H46V17H47V18H48V19H49V21H50V23H51V26H52V38H51V41H50V43H49V44H48V46H47V47H45V48H44V49H42V50H40V51H37V52H28V51H24V50H22V49H20V48H19V47H18V46H17V45H16V44H15V42H14V40H13V36H12V27H13V24H14V22H15V20H16V19H17V17H18V16H20V15H21V14H23V13H26V12Z"/>
<path fill="#bcf800" d="M29 12H35V13H39V14H42V15H44V16H45V17H46V18H47V19H48V20H49V22H50V25H51V29H52V35H51V39H50V42H49V43H48V45H47V46H46V47H45V48H43V49H41V50H38V51H26V50H23V49H21V48H20V47H19V46H18V45H17V44H16V43H15V41H14V38H13V26H14V23H15V21H16V19H17V18H18V17H19V16H21V15H22V14H25V13H29V12Z"/>
<path fill="#c6f500" d="M27 13H37V14H40V15H42V16H44V17H45V18H46V19H47V20H48V22H49V24H50V27H51V37H50V40H49V42H48V44H47V45H46V46H45V47H44V48H42V49H40V50H36V51H29V50H25V49H23V48H21V47H20V46H18V44H17V43H16V41H15V39H14V35H13V28H14V24H15V22H16V20H17V19H18V18H19V17H20V16H22V15H24V14H27V13Z"/>
<path fill="#cff200" d="M31 13H33V14H39V15H41V16H43V17H44V18H45V19H46V20H47V21H48V23H49V25H50V31H51V33H50V38H49V41H48V43H47V44H46V45H45V46H44V47H42V48H41V49H38V50H27V49H24V48H22V47H20V46H19V45H18V44H17V42H16V40H15V37H14V26H15V23H16V22H17V20H18V19H19V18H20V17H21V16H23V15H26V14H31V13Z"/>
<path fill="#d8ef00" d="M28 14H37V15H40V16H42V17H43V18H45V19H46V21H47V22H48V24H49V27H50V36H49V39H48V42H47V43H46V44H45V45H44V46H43V47H41V48H39V49H34V50H30V49H25V48H23V47H21V46H20V45H19V44H18V43H17V41H16V39H15V34H14V30H15V25H16V23H17V21H18V20H19V19H20V18H21V17H22V16H24V15H28V14Z"/>
<path fill="#e0e500" d="M26 15H38V16H41V17H42V18H44V19H45V20H46V22H47V23H48V26H49V38H48V40H47V42H46V43H45V44H44V45H43V46H42V47H40V48H37V49H27V48H24V47H23V46H21V45H20V44H19V43H18V41H17V40H16V37H15V27H16V24H17V22H18V21H19V20H20V19H21V18H22V17H24V16H26V15Z"/>
<path fill="#e7db00" d="M29 15H36V16H39V17H41V18H43V19H44V20H45V21H46V23H47V25H48V28H49V35H48V39H47V41H46V42H45V44H44V45H42V46H41V47H38V48H26V47H24V46H22V45H21V44H20V43H19V42H18V40H17V38H16V26H17V23H18V22H19V20H20V19H22V18H23V17H25V16H29V15Z"/>
<path fill="#ebc900" d="M27 16H37V17H40V18H42V19H43V20H44V21H45V22H46V24H47V27H48V37H47V40H46V41H45V43H44V44H43V45H41V46H39V47H36V48H28V47H25V46H23V45H22V44H21V43H20V42H19V41H18V39H17V36H16V28H17V25H18V23H19V21H20V20H21V19H23V18H24V17H27V16Z"/>
<path fill="#eeb700" d="M30 16H35V17H39V18H41V19H42V20H43V21H44V22H45V23H46V25H47V29H48V34H47V38H46V40H45V42H44V43H43V44H42V45H40V46H38V47H27V46H24V45H23V44H21V43H20V41H19V40H18V37H17V26H18V24H19V22H20V21H21V20H22V19H24V18H26V17H30V16Z"/>
<path fill="#f0a500" d="M28 17H37V18H39V19H41V20H42V21H43V22H44V23H45V25H46V27H47V36H46V39H45V41H44V42H43V43H42V44H41V45H39V46H35V47H29V46H26V45H24V44H22V43H21V42H20V40H19V38H18V35H17V29H18V25H19V23H20V22H21V21H22V20H23V19H25V18H28V17Z"/>
<path fill="#f18f00" d="M31 17H33V18H38V19H40V20H42V21H43V22H44V24H45V26H46V31H47V33H46V38H45V40H44V41H43V42H42V43H41V44H39V45H37V46H27V45H25V44H23V43H22V42H21V41H20V39H19V37H18V27H19V25H20V23H21V22H22V21H23V20H24V19H26V18H31V17Z"/>
<path fill="#f27a00" d="M28 18H36V19H39V20H41V21H42V22H43V23H44V25H45V28H46V36H45V38H44V40H43V41H42V42H41V43H40V44H38V45H34V46H30V45H26V44H24V43H23V42H22V41H21V40H20V38H19V34H18V30H19V26H20V24H21V23H22V22H23V21H24V20H26V19H28V18Z"/>
<path fill="#f26300" d="M27 19H37V20H39V21H41V22H42V23H43V25H44V27H45V37H44V39H43V41H42V42H40V43H39V44H36V45H28V44H26V43H24V42H23V41H22V40H21V38H20V36H19V28H20V25H21V24H22V22H23V21H25V20H27V19Z"/>
<path fill="#f24a00" d="M29 19H35V20H38V21H40V22H41V23H42V24H43V26H44V29H45V35H44V38H43V40H42V41H41V42H39V43H37V44H27V43H25V42H24V41H23V40H22V39H21V37H20V27H21V25H22V23H23V22H24V21H26V20H29V19Z"/>
<path fill="#f23200" d="M28 20H37V21H39V22H40V23H41V24H42V25H43V27H44V36H43V38H42V40H41V41H40V42H38V43H35V44H29V43H26V42H25V41H23V39H22V38H21V35H20V29H21V26H22V24H23V23H24V22H26V21H28V20Z"/>
<path fill="#f01a00" d="M30 20H34V21H38V22H39V23H40V24H41V25H42V26H43V30H44V34H43V37H42V39H41V40H40V41H39V42H37V43H28V42H26V41H24V40H23V38H22V36H21V27H22V25H23V24H24V23H25V22H27V21H30V20Z"/>
<path fill="#ee0d00" d="M28 21H36V22H38V23H40V24H41V26H42V28H43V36H42V38H41V39H40V40H39V41H38V42H35V43H30V42H27V41H25V40H24V39H23V37H22V34H21V29H22V26H23V25H24V24H25V23H26V22H28V21Z"/>
<path fill="#ec0700" d="M27 22H37V23H39V24H40V25H41V27H42V37H41V38H40V39H39V40H38V41H36V42H28V41H26V40H25V39H24V38H23V36H22V28H23V26H24V25H25V24H26V23H27V22Z"/>
<path fill="#e90200" d="M29 22H35V23H38V24H39V25H40V26H41V29H42V35H41V37H40V39H39V40H37V41H34V42H31V41H27V40H26V39H25V38H24V37H23V33H22V30H23V27H24V25H25V24H27V23H29V22Z"/>
<path fill="#e50000" d="M28 23H36V24H38V25H39V26H40V28H41V36H40V38H39V39H38V40H35V41H29V40H27V39H26V38H25V37H24V35H23V29H24V26H25V25H26V24H28V23Z"/>
<path fill="#e00000" d="M30 23H35V24H37V25H38V26H39V27H40V29H41V34H40V37H39V38H38V39H36V40H28V39H26V38H25V36H24V28H25V26H26V25H27V24H30V23Z"/>
<path fill="#db0000" d="M29 24H36V25H37V26H38V27H39V28H40V35H39V37H38V38H37V39H35V40H30V39H27V38H26V37H25V34H24V29H25V27H26V26H27V25H29V24Z"/>
<path fill="#d60000" d="M31 24H34V25H36V26H38V28H39V30H40V33H39V36H38V37H37V38H36V39H29V38H27V37H26V35H25V28H26V27H27V26H28V25H31V24Z"/>
<path fill="#d20000" d="M29 25H35V26H37V27H38V29H39V35H38V36H37V37H36V38H34V39H30V38H28V37H27V36H26V34H25V30H26V28H27V27H28V26H29V25Z"/>
<path fill="#cf0000" d="M29 26H36V27H37V28H38V35H37V37H35V38H29V37H28V36H27V35H26V29H27V27H29V26Z"/>
<path fill="#cc0000" d="M30 26H34V27H36V28H37V30H38V34H37V36H36V37H33V38H31V37H29V36H28V35H27V33H26V31H27V28H28V27H30V26Z"/>
<path fill="#ca0000" d="M29 27H35V28H36V29H37V35H36V36H35V37H30V36H28V34H27V29H28V28H29V27Z"/>
<path fill="#c80000" d="M30 27H34V28H35V29H36V30H37V34H36V35H35V36H29V35H28V29H29V28H30V27Z"/>
<path fill="#c60000" d="M30 28H35V29H36V34H35V35H34V36H30V35H29V34H28V30H29V29H30V28Z"/>
<path fill="#c40000" d="M31 28H33V29H35V31H36V33H35V34H34V35H30V34H29V30H30V29H31V28Z"/>
<path fill="#c30000" d="M30 29H34V30H35V34H33V35H31V34H30V33H29V31H30V29Z"/>
<path fill="#c20000" d="M30 30H34V34H31V33H30V30Z"/>
<path fill="#c10000" d="M31 30H33V31H34V33H33V34H32V33H31V32H30V31H31V30Z"/>
<path fill="#c00000" d="M31 31H33V33H31V31Z"/>
<path fill="#c00000" d="M32 31H33V32H32V31Z"/>
</g></g>
<path d="M129.30 724.00V1092.10" fill="none" stroke="#888" stroke-width="1.3"/>
<path d="M129.90 1091.30H499.30" fill="none" stroke="#1c0078" stroke-width="1" opacity="0.7"/>
<rect x="515.90" y="754.60" width="33.90" height="266.90" fill="url(#cb)"/>
<text x="556.00" y="765.50" font-family="'Liberation Serif','Noto Serif CJK SC',serif" font-size="17.8" fill="#3a3a3a">0.000</text>
<text x="556.00" y="791.98" font-family="'Liberation Serif','Noto Serif CJK SC',serif" font-size="17.8" fill="#3a3a3a" textLength="49.5" lengthAdjust="spacingAndGlyphs">−0.019</text>
<text x="556.00" y="818.46" font-family="'Liberation Serif','Noto Serif CJK SC',serif" font-size="17.8" fill="#3a3a3a" textLength="49.5" lengthAdjust="spacingAndGlyphs">−0.037</text>
<text x="556.00" y="844.94" font-family="'Liberation Serif','Noto Serif CJK SC',serif" font-size="17.8" fill="#3a3a3a" textLength="49.5" lengthAdjust="spacingAndGlyphs">−0.056</text>
<text x="556.00" y="871.42" font-family="'Liberation Serif','Noto Serif CJK SC',serif" font-size="17.8" fill="#3a3a3a" textLength="49.5" lengthAdjust="spacingAndGlyphs">−0.074</text>
<text x="556.00" y="897.90" font-family="'Liberation Serif','Noto Serif CJK SC',serif" font-size="17.8" fill="#3a3a3a" textLength="49.5" lengthAdjust="spacingAndGlyphs">−0.093</text>
<text x="556.00" y="924.38" font-family="'Liberation Serif','Noto Serif CJK SC',serif" font-size="17.8" fill="#3a3a3a" textLength="49.5" lengthAdjust="spacingAndGlyphs">−0.112</text>
<text x="556.00" y="950.86" font-family="'Liberation Serif','Noto Serif CJK SC',serif" font-size="17.8" fill="#3a3a3a" textLength="49.5" lengthAdjust="spacingAndGlyphs">−0.130</text>
<text x="556.00" y="977.34" font-family="'Liberation Serif','Noto Serif CJK SC',serif" font-size="17.8" fill="#3a3a3a" textLength="49.5" lengthAdjust="spacingAndGlyphs">−0.149</text>
<text x="556.00" y="1003.82" font-family="'Liberation Serif','Noto Serif CJK SC',serif" font-size="17.8" fill="#3a3a3a" textLength="49.5" lengthAdjust="spacingAndGlyphs">−0.167</text>
<text x="556.00" y="1030.30" font-family="'Liberation Serif','Noto Serif CJK SC',serif" font-size="17.8" fill="#3a3a3a" textLength="49.5" lengthAdjust="spacingAndGlyphs">−0.186</text>
<text x="552.50" y="1056.60" font-family="'DejaVu Sans Mono','Liberation Mono',monospace" font-size="13.9" fill="#333">Waves</text>
<text x="202.40" y="712.90" font-family="'Liberation Serif','Noto Serif CJK SC',serif" font-size="40.5" font-weight="bold" fill="#000">OBJ：</text>
<text x="319.80" y="712.90" font-family="'Liberation Serif','Noto Serif CJK SC',serif" font-size="40.5" font-weight="bold" fill="#000">−</text>
<text x="355.80" y="712.90" font-family="'Liberation Serif','Noto Serif CJK SC',serif" font-size="40.5" font-weight="bold" fill="#000">2.35°</text>
<text x="121.00" y="735.00" font-family="'Liberation Serif','Noto Serif CJK SC',serif" font-size="21" fill="#3a3a3a" text-anchor="end">1.0</text>
<text x="125.50" y="918.00" font-family="'Liberation Serif','Noto Serif CJK SC',serif" font-size="21" fill="#3a3a3a" text-anchor="end">0</text>
<text x="121.00" y="1102.50" font-family="'Liberation Serif','Noto Serif CJK SC',serif" font-size="21" fill="#3a3a3a" text-anchor="end">−1.0</text>
<text x="129.60" y="1120.50" font-family="'Liberation Serif','Noto Serif CJK SC',serif" font-size="21" fill="#3a3a3a" text-anchor="middle">−1.0</text>
<text x="315.00" y="1120.50" font-family="'Liberation Serif','Noto Serif CJK SC',serif" font-size="21" fill="#3a3a3a" text-anchor="middle">0</text>
<text x="499.00" y="1120.50" font-family="'Liberation Serif','Noto Serif CJK SC',serif" font-size="21" fill="#3a3a3a" text-anchor="middle">1.0</text>
<text x="198.00" y="1145.80" font-family="'DejaVu Sans Mono','Liberation Mono',monospace" font-size="19.80" fill="#3a3a3a">X-Pupil (Rel. Units)</text>
<text transform="translate(42.50 1025.50) rotate(-90)" font-family="'DejaVu Sans Mono','Liberation Mono',monospace" font-size="19.80" fill="#3a3a3a">Y-Pupil (Rel. Units)</text>
<text x="110.50" y="1184.00" font-family="'Liberation Serif','Noto Serif CJK SC',serif" font-size="40.6" font-weight="bold" fill="#000">Peak to valley = 0.1858 λ</text>
<text x="186.20" y="1232.40" font-family="'Liberation Serif','Noto Serif CJK SC',serif" font-size="40.6" font-weight="bold" fill="#000">RMS = 0.0523 λ</text>
<g filter="url(#bl)"><g transform="translate(756.60 389.30) scale(5.82969 5.78437)">
<rect width="64" height="64" fill="#320ac8"/>
<path fill="#e20000" d="M24 1H40V2H43V3H45V4H47V5H49V6H50V7H52V8H53V9H54V10H55V11H56V12H57V14H58V15H59V17H60V19H61V21H62V24H63V40H62V43H61V45H60V47H59V49H58V50H57V52H56V53H55V54H54V55H53V56H52V57H50V58H49V59H47V60H45V61H43V62H40V63H24V62H21V61H19V60H17V59H15V58H14V57H12V56H11V55H10V54H9V53H8V52H7V50H6V49H5V47H4V45H3V43H2V40H1V24H2V21H3V19H4V17H5V15H6V14H7V12H8V11H9V10H10V9H11V8H12V7H14V6H15V5H17V4H19V3H21V2H24V1Z"/>
<path fill="#ec0800" d="M27 1H37V2H41V3H44V4H46V5H48V6H49V7H51V8H52V9H53V10H54V11H55V12H56V13H57V15H58V16H59V18H60V20H61V23H62V27H63V37H62V41H61V44H60V46H59V48H58V49H57V51H56V52H55V53H54V54H53V55H52V56H51V57H49V58H48V59H46V60H44V61H41V62H37V63H27V62H23V61H20V60H18V59H16V58H15V57H13V56H12V55H11V54H10V53H9V52H8V51H7V49H6V48H5V46H4V44H3V41H2V37H1V27H2V23H3V20H4V18H5V16H6V15H7V13H8V12H9V11H10V10H11V9H12V8H13V7H15V6H16V5H18V4H20V3H23V2H27V1Z"/>
<path fill="#f12400" d="M25 2H39V3H42V4H45V5H47V6H48V7H50V8H51V9H52V10H53V11H54V12H55V13H56V14H57V16H58V17H59V19H60V22H61V25H62V39H61V42H60V45H59V47H58V48H57V50H56V51H55V52H54V53H53V54H52V55H51V56H50V57H48V58H47V59H45V60H42V61H39V62H25V61H22V60H19V59H17V58H16V57H14V56H13V55H12V54H11V53H10V52H9V51H8V50H7V48H6V47H5V45H4V42H3V39H2V25H3V22H4V19H5V17H6V16H7V14H8V13H9V12H10V11H11V10H12V9H13V8H14V7H16V6H17V5H19V4H22V3H25V2Z"/>
<path fill="#f25400" d="M28 2H36V3H41V4H43V5H46V6H47V7H49V8H50V9H51V10H53V11H54V13H55V14H56V15H57V17H58V18H59V21H60V23H61V28H62V36H61V41H60V43H59V46H58V47H57V49H56V50H55V51H54V53H53V54H51V55H50V56H49V57H47V58H46V59H43V60H41V61H36V62H28V61H23V60H21V59H18V58H17V57H15V56H14V55H13V54H11V53H10V51H9V50H8V49H7V47H6V46H5V43H4V41H3V36H2V28H3V23H4V21H5V18H6V17H7V15H8V14H9V13H10V11H11V10H13V9H14V8H15V7H17V6H18V5H21V4H23V3H28V2Z"/>
<path fill="#f27d00" d="M26 3H38V4H42V5H44V6H46V7H48V8H49V9H51V10H52V11H53V12H54V13H55V15H56V16H57V18H58V20H59V22H60V26H61V38H60V42H59V44H58V46H57V48H56V49H55V51H54V52H53V53H52V54H51V55H49V56H48V57H46V58H44V59H42V60H38V61H26V60H22V59H20V58H18V57H16V56H15V55H13V54H12V53H11V52H10V51H9V49H8V48H7V46H6V44H5V42H4V38H3V26H4V22H5V20H6V18H7V16H8V15H9V13H10V12H11V11H12V10H13V9H15V8H16V7H18V6H20V5H22V4H26V3Z"/>
<path fill="#f0a000" d="M29 3H35V4H40V5H43V6H45V7H47V8H48V9H50V10H51V11H52V12H53V13H54V14H55V16H56V17H57V19H58V21H59V24H60V29H61V35H60V40H59V43H58V45H57V47H56V48H55V50H54V51H53V52H52V53H51V54H50V55H48V56H47V57H45V58H43V59H40V60H35V61H29V60H24V59H21V58H19V57H17V56H16V55H14V54H13V53H12V52H11V51H10V50H9V48H8V47H7V45H6V43H5V40H4V35H3V29H4V24H5V21H6V19H7V17H8V16H9V14H10V13H11V12H12V11H13V10H14V9H16V8H17V7H19V6H21V5H24V4H29V3Z"/>
<path fill="#edbc00" d="M26 4H38V5H41V6H44V7H46V8H47V9H49V10H50V11H51V12H52V13H53V14H54V15H55V17H56V18H57V20H58V23H59V26H60V38H59V41H58V44H57V46H56V47H55V49H54V50H53V51H52V52H51V53H50V54H49V55H47V56H46V57H44V58H41V59H38V60H26V59H23V58H20V57H18V56H17V55H15V54H14V53H13V52H12V51H11V50H10V49H9V47H8V46H7V44H6V41H5V38H4V26H5V23H6V20H7V18H8V17H9V15H10V14H11V13H12V12H13V11H14V10H15V9H17V8H18V7H20V6H23V5H26V4Z"/>
<path fill="#e9d500" d="M31 4H33V5H39V6H42V7H45V8H46V9H48V10H49V11H50V12H51V13H52V14H53V15H54V16H55V18H56V19H57V22H58V25H59V31H60V33H59V39H58V42H57V45H56V46H55V48H54V49H53V50H52V51H51V52H50V53H49V54H48V55H46V56H45V57H42V58H39V59H33V60H31V59H25V58H22V57H19V56H18V55H16V54H15V53H14V52H13V51H12V50H11V49H10V48H9V46H8V45H7V42H6V39H5V33H4V31H5V25H6V22H7V19H8V18H9V16H10V15H11V14H12V13H13V12H14V11H15V10H16V9H18V8H19V7H22V6H25V5H31V4Z"/>
<path fill="#e0e500" d="M27 5H37V6H41V7H43V8H45V9H47V10H48V11H50V12H51V13H52V14H53V16H54V17H55V19H56V21H57V23H58V27H59V37H58V41H57V43H56V45H55V47H54V48H53V50H52V51H51V52H50V53H48V54H47V55H45V56H43V57H41V58H37V59H27V58H23V57H21V56H19V55H17V54H16V53H14V52H13V51H12V50H11V48H10V47H9V45H8V43H7V41H6V37H5V27H6V23H7V21H8V19H9V17H10V16H11V14H12V13H13V12H14V11H16V10H17V9H19V8H21V7H23V6H27V5Z"/>
<path fill="#d7ef00" d="M25 6H39V7H42V8H44V9H46V10H47V11H49V12H50V13H51V14H52V15H53V17H54V18H55V20H56V22H57V25H58V39H57V42H56V44H55V46H54V47H53V49H52V50H51V51H50V52H49V53H47V54H46V55H44V56H42V57H39V58H25V57H22V56H20V55H18V54H17V53H15V52H14V51H13V50H12V49H11V47H10V46H9V44H8V42H7V39H6V25H7V22H8V20H9V18H10V17H11V15H12V14H13V13H14V12H15V11H17V10H18V9H20V8H22V7H25V6Z"/>
<path fill="#ccf300" d="M28 6H36V7H40V8H43V9H45V10H46V11H48V12H49V13H50V14H51V15H52V16H53V18H54V19H55V21H56V24H57V28H58V36H57V40H56V43H55V45H54V46H53V48H52V49H51V50H50V51H49V52H48V53H46V54H45V55H43V56H40V57H36V58H28V57H24V56H21V55H19V54H18V53H16V52H15V51H14V50H13V49H12V48H11V46H10V45H9V43H8V40H7V36H6V28H7V24H8V21H9V19H10V18H11V16H12V15H13V14H14V13H15V12H16V11H18V10H19V9H21V8H24V7H28V6Z"/>
<path fill="#c2f600" d="M26 7H38V8H41V9H44V10H45V11H47V12H48V13H49V14H50V15H51V16H52V17H53V19H54V20H55V23H56V26H57V38H56V41H55V44H54V45H53V47H52V48H51V49H50V50H49V51H48V52H47V53H45V54H44V55H41V56H38V57H26V56H23V55H20V54H19V53H17V52H16V51H15V50H14V49H13V48H12V47H11V45H10V44H9V41H8V38H7V26H8V23H9V20H10V19H11V17H12V16H13V15H14V14H15V13H16V12H17V11H19V10H20V9H23V8H26V7Z"/>
<path fill="#b8f900" d="M29 7H35V8H40V9H42V10H44V11H46V12H47V13H48V14H49V15H50V16H51V17H52V18H53V20H54V22H55V24H56V29H57V35H56V40H55V42H54V44H53V46H52V47H51V48H50V49H49V50H48V51H47V52H46V53H44V54H42V55H40V56H35V57H29V56H24V55H22V54H20V53H18V52H17V51H16V50H15V49H14V48H13V47H12V46H11V44H10V42H9V40H8V35H7V29H8V24H9V22H10V20H11V18H12V17H13V16H14V15H15V14H16V13H17V12H18V11H20V10H22V9H24V8H29V7Z"/>
<path fill="#abfa00" d="M26 8H38V9H41V10H43V11H45V12H46V13H48V14H49V15H50V16H51V18H52V19H53V21H54V23H55V26H56V38H55V41H54V43H53V45H52V46H51V48H50V49H49V50H48V51H46V52H45V53H43V54H41V55H38V56H26V55H23V54H21V53H19V52H18V51H16V50H15V49H14V48H13V46H12V45H11V43H10V41H9V38H8V26H9V23H10V21H11V19H12V18H13V16H14V15H15V14H16V13H18V12H19V11H21V10H23V9H26V8Z"/>
<path fill="#9efa00" d="M30 8H34V9H39V10H42V11H44V12H45V13H47V14H48V15H49V16H50V17H51V19H52V20H53V22H54V25H55V30H56V34H55V39H54V42H53V44H52V45H51V47H50V48H49V49H48V50H47V51H45V52H44V53H42V54H39V55H34V56H30V55H25V54H22V53H20V52H19V51H17V50H16V49H15V48H14V47H13V45H12V44H11V42H10V39H9V34H8V30H9V25H10V22H11V20H12V19H13V17H14V16H15V15H16V14H17V13H19V12H20V11H22V10H25V9H30V8Z"/>
<path fill="#91fa00" d="M27 9H37V10H40V11H42V12H44V13H46V14H47V15H48V16H49V17H50V18H51V20H52V22H53V24H54V27H55V37H54V40H53V42H52V44H51V46H50V47H49V48H48V49H47V50H46V51H44V52H42V53H40V54H37V55H27V54H24V53H22V52H20V51H18V50H17V49H16V48H15V47H14V46H13V44H12V42H11V40H10V37H9V27H10V24H11V22H12V20H13V18H14V17H15V16H16V15H17V14H18V13H20V12H22V11H24V10H27V9Z"/>
<path fill="#85fa00" d="M25 10H39V11H41V12H43V13H45V14H46V15H47V16H48V17H49V18H50V19H51V21H52V23H53V25H54V39H53V41H52V43H51V45H50V46H49V47H48V48H47V49H46V50H45V51H43V52H41V53H39V54H25V53H23V52H21V51H19V50H18V49H17V48H16V47H15V46H14V45H13V43H12V41H11V39H10V25H11V23H12V21H13V19H14V18H15V17H16V16H17V15H18V14H19V13H21V12H23V11H25V10Z"/>
<path fill="#75f901" d="M28 10H36V11H40V12H42V13H44V14H45V15H46V16H47V17H48V18H49V19H50V20H51V22H52V24H53V28H54V36H53V40H52V42H51V44H50V45H49V46H48V47H47V48H46V49H45V50H44V51H42V52H40V53H36V54H28V53H24V52H22V51H20V50H19V49H18V48H17V47H16V46H15V45H14V44H13V42H12V40H11V36H10V28H11V24H12V22H13V20H14V19H15V18H16V17H17V16H18V15H19V14H20V13H22V12H24V11H28V10Z"/>
<path fill="#65f702" d="M26 11H38V12H41V13H43V14H44V15H46V16H47V17H48V18H49V20H50V21H51V23H52V26H53V38H52V41H51V43H50V44H49V46H48V47H47V48H46V49H44V50H43V51H41V52H38V53H26V52H23V51H21V50H20V49H18V48H17V47H16V46H15V44H14V43H13V41H12V38H11V26H12V23H13V21H14V20H15V18H16V17H17V16H18V15H20V14H21V13H23V12H26V11Z"/>
<path fill="#54f504" d="M29 11H35V12H39V13H41V14H43V15H45V16H46V17H47V18H48V19H49V21H50V23H51V25H52V29H53V35H52V39H51V41H50V43H49V45H48V46H47V47H46V48H45V49H43V50H41V51H39V52H35V53H29V52H25V51H23V50H21V49H19V48H18V47H17V46H16V45H15V43H14V41H13V39H12V35H11V29H12V25H13V23H14V21H15V19H16V18H17V17H18V16H19V15H21V14H23V13H25V12H29V11Z"/>
<path fill="#42f309" d="M27 12H37V13H40V14H42V15H44V16H45V17H46V18H47V19H48V20H49V22H50V24H51V27H52V37H51V40H50V42H49V44H48V45H47V46H46V47H45V48H44V49H42V50H40V51H37V52H27V51H24V50H22V49H20V48H19V47H18V46H17V45H16V44H15V42H14V40H13V37H12V27H13V24H14V22H15V20H16V19H17V18H18V17H19V16H20V15H22V14H24V13H27V12Z"/>
<path fill="#2ff010" d="M30 12H34V13H39V14H41V15H43V16H44V17H45V18H46V19H47V20H48V21H49V23H50V25H51V30H52V34H51V39H50V41H49V43H48V44H47V45H46V46H45V47H44V48H43V49H41V50H39V51H34V52H30V51H25V50H23V49H21V48H20V47H19V46H18V45H17V44H16V43H15V41H14V39H13V34H12V30H13V25H14V23H15V21H16V20H17V19H18V18H19V17H20V16H21V15H23V14H25V13H30V12Z"/>
<path fill="#1eec1e" d="M27 13H37V14H40V15H42V16H43V17H44V18H46V20H47V21H48V22H49V24H50V27H51V37H50V40H49V42H48V43H47V44H46V46H44V47H43V48H42V49H40V50H37V51H27V50H24V49H22V48H21V47H20V46H18V44H17V43H16V42H15V40H14V37H13V27H14V24H15V22H16V21H17V20H18V18H20V17H21V16H22V15H24V14H27V13Z"/>
<path fill="#12e834" d="M31 13H33V14H38V15H40V16H42V17H44V18H45V19H46V20H47V22H48V24H49V26H50V31H51V33H50V38H49V40H48V42H47V44H46V45H45V46H44V47H42V48H40V49H38V50H33V51H31V50H26V49H24V48H22V47H20V46H19V45H18V44H17V42H16V40H15V38H14V33H13V31H14V26H15V24H16V22H17V20H18V19H19V18H20V17H22V16H24V15H26V14H31V13Z"/>
<path fill="#06e44a" d="M28 14H36V15H39V16H41V17H43V18H44V19H45V20H46V21H47V23H48V25H49V28H50V36H49V39H48V41H47V43H46V44H45V45H44V46H43V47H41V48H39V49H36V50H28V49H25V48H23V47H21V46H20V45H19V44H18V43H17V41H16V39H15V36H14V28H15V25H16V23H17V21H18V20H19V19H20V18H21V17H23V16H25V15H28V14Z"/>
<path fill="#00df5c" d="M26 15H38V16H40V17H42V18H43V19H44V20H45V21H46V22H47V24H48V26H49V38H48V40H47V42H46V43H45V44H44V45H43V46H42V47H40V48H38V49H26V48H24V47H22V46H21V45H20V44H19V43H18V42H17V40H16V38H15V26H16V24H17V22H18V21H19V20H20V19H21V18H22V17H24V16H26V15Z"/>
<path fill="#00da6c" d="M29 15H35V16H39V17H41V18H42V19H43V20H44V21H45V22H46V23H47V25H48V29H49V35H48V39H47V41H46V42H45V43H44V44H43V45H42V46H41V47H39V48H35V49H29V48H25V47H23V46H22V45H21V44H20V43H19V42H18V41H17V39H16V35H15V29H16V25H17V23H18V22H19V21H20V20H21V19H22V18H23V17H25V16H29V15Z"/>
<path fill="#00d47c" d="M27 16H37V17H39V18H41V19H42V20H44V22H45V23H46V25H47V27H48V37H47V39H46V41H45V42H44V44H42V45H41V46H39V47H37V48H27V47H25V46H23V45H22V44H20V42H19V41H18V39H17V37H16V27H17V25H18V23H19V22H20V20H22V19H23V18H25V17H27V16Z"/>
<path fill="#00cf8b" d="M29 16H35V17H38V18H40V19H42V20H43V21H44V22H45V24H46V26H47V29H48V35H47V38H46V40H45V42H44V43H43V44H42V45H40V46H38V47H35V48H29V47H26V46H24V45H22V44H21V43H20V42H19V40H18V38H17V35H16V29H17V26H18V24H19V22H20V21H21V20H22V19H24V18H26V17H29V16Z"/>
<path fill="#00c597" d="M28 17H36V18H39V19H41V20H42V21H43V22H44V23H45V25H46V28H47V36H46V39H45V41H44V42H43V43H42V44H41V45H39V46H36V47H28V46H25V45H23V44H22V43H21V42H20V41H19V39H18V36H17V28H18V25H19V23H20V22H21V21H22V20H23V19H25V18H28V17Z"/>
<path fill="#00baa3" d="M30 17H34V18H38V19H40V20H41V21H42V22H43V23H44V24H45V26H46V30H47V34H46V38H45V40H44V41H43V42H42V43H41V44H40V45H38V46H34V47H30V46H26V45H24V44H23V43H22V42H21V41H20V40H19V38H18V34H17V30H18V26H19V24H20V23H21V22H22V21H23V20H24V19H26V18H30V17Z"/>
<path fill="#00afae" d="M28 18H36V19H38V20H40V21H41V22H42V23H43V24H44V26H45V28H46V36H45V38H44V40H43V41H42V42H41V43H40V44H38V45H36V46H28V45H26V44H24V43H23V42H22V41H21V40H20V38H19V36H18V28H19V26H20V24H21V23H22V22H23V21H24V20H26V19H28V18Z"/>
<path fill="#00a5b9" d="M27 19H37V20H39V21H40V22H42V24H43V25H44V27H45V37H44V39H43V40H42V42H40V43H39V44H37V45H27V44H25V43H24V42H22V40H21V39H20V37H19V27H20V25H21V24H22V22H24V21H25V20H27V19Z"/>
<path fill="#0099c1" d="M29 19H35V20H38V21H40V22H41V23H42V24H43V26H44V29H45V35H44V38H43V40H42V41H41V42H40V43H38V44H35V45H29V44H26V43H24V42H23V41H22V40H21V38H20V35H19V29H20V26H21V24H22V23H23V22H24V21H26V20H29V19Z"/>
<path fill="#008ec7" d="M27 20H37V21H39V22H40V23H41V24H42V25H43V27H44V37H43V39H42V40H41V41H40V42H39V43H37V44H27V43H25V42H24V41H23V40H22V39H21V37H20V27H21V25H22V24H23V23H24V22H25V21H27V20Z"/>
<path fill="#0082cd" d="M29 20H35V21H37V22H39V23H40V24H41V25H42V27H43V29H44V35H43V37H42V39H41V40H40V41H39V42H37V43H35V44H29V43H27V42H25V41H24V40H23V39H22V37H21V35H20V29H21V27H22V25H23V24H24V23H25V22H27V21H29V20Z"/>
<path fill="#0078d2" d="M28 21H36V22H38V23H39V24H40V25H41V26H42V28H43V36H42V38H41V39H40V40H39V41H38V42H36V43H28V42H26V41H25V40H24V39H23V38H22V36H21V28H22V26H23V25H24V24H25V23H26V22H28V21Z"/>
<path fill="#016dd6" d="M30 21H34V22H37V23H38V24H40V26H41V27H42V30H43V34H42V37H41V38H40V40H38V41H37V42H34V43H30V42H27V41H26V40H24V38H23V37H22V34H21V30H22V27H23V26H24V24H26V23H27V22H30V21Z"/>
<path fill="#0761d5" d="M29 22H35V23H37V24H39V25H40V27H41V29H42V35H41V37H40V39H39V40H37V41H35V42H29V41H27V40H25V39H24V37H23V35H22V29H23V27H24V25H25V24H27V23H29V22Z"/>
<path fill="#0c56d5" d="M31 22H33V23H36V24H38V25H39V26H40V28H41V31H42V33H41V36H40V38H39V39H38V40H36V41H33V42H31V41H28V40H26V39H25V38H24V36H23V33H22V31H23V28H24V26H25V25H26V24H28V23H31V22Z"/>
<path fill="#124cd5" d="M29 23H35V24H37V25H38V26H39V27H40V29H41V35H40V37H39V38H38V39H37V40H35V41H29V40H27V39H26V38H25V37H24V35H23V29H24V27H25V26H26V25H27V24H29V23Z"/>
<path fill="#1642d4" d="M28 24H36V25H37V26H38V27H39V28H40V36H39V37H38V38H37V39H36V40H28V39H27V38H26V37H25V36H24V28H25V27H26V26H27V25H28V24Z"/>
<path fill="#1b39d4" d="M30 24H34V25H36V26H38V28H39V30H40V34H39V36H38V38H36V39H34V40H30V39H28V38H26V36H25V34H24V30H25V28H26V26H28V25H30V24Z"/>
<path fill="#1e31d3" d="M29 25H35V26H37V27H38V29H39V35H38V37H37V38H35V39H29V38H27V37H26V35H25V29H26V27H27V26H29V25Z"/>
<path fill="#212bd1" d="M30 25H34V26H36V27H37V28H38V30H39V34H38V36H37V37H36V38H34V39H30V38H28V37H27V36H26V34H25V30H26V28H27V27H28V26H30V25Z"/>
<path fill="#2426d0" d="M29 26H35V27H36V28H37V29H38V35H37V36H36V37H35V38H29V37H28V36H27V35H26V29H27V28H28V27H29V26Z"/>
<path fill="#2721ce" d="M31 26H33V27H35V28H36V29H37V31H38V33H37V35H36V36H35V37H33V38H31V37H29V36H28V35H27V33H26V31H27V29H28V28H29V27H31V26Z"/>
<path fill="#291ccd" d="M30 27H34V28H36V30H37V34H36V36H34V37H30V36H28V34H27V30H28V28H30V27Z"/>
<path fill="#2b18cc" d="M29 28H35V29H36V35H35V36H29V35H28V29H29V28Z"/>
<path fill="#2d15cb" d="M30 28H34V29H35V30H36V34H35V35H34V36H30V35H29V34H28V30H29V29H30V28Z"/>
<path fill="#2e12ca" d="M30 29H34V30H35V34H34V35H30V34H29V30H30V29Z"/>
<path fill="#2f0fc9" d="M31 29H33V30H34V31H35V33H34V34H33V35H31V34H30V33H29V31H30V30H31V29Z"/>
<path fill="#300dc9" d="M30 30H34V34H30V30Z"/>
<path fill="#310cc8" d="M31 30H33V31H34V33H33V34H31V33H30V31H31V30Z"/>
<path fill="#320bc8" d="M31 31H33V33H31V31Z"/>
<rect x="31.5" y="0" width="1" height="1.2" fill="#e40000"/><rect x="31.5" y="62.8" width="1" height="1.2" fill="#e40000"/>
</g></g>
<path d="M756.00 389.30V760.00" fill="none" stroke="#888" stroke-width="1.3"/>
<path d="M756.60 759.20H1129.70" fill="none" stroke="#1c0078" stroke-width="1" opacity="0.7"/>
<rect x="1146.50" y="440.20" width="34.40" height="268.90" fill="url(#cb)"/>
<text x="1184.40" y="445.80" font-family="'Liberation Serif','Noto Serif CJK SC',serif" font-size="18.2" fill="#3a3a3a">2.62×10<tspan dy="-7.5" dx="0.5" font-size="10.7">−3</tspan></text>
<text x="1184.40" y="472.80" font-family="'Liberation Serif','Noto Serif CJK SC',serif" font-size="18.2" fill="#3a3a3a">2.36×10<tspan dy="-7.5" dx="0.5" font-size="10.7">−3</tspan></text>
<text x="1184.40" y="499.80" font-family="'Liberation Serif','Noto Serif CJK SC',serif" font-size="18.2" fill="#3a3a3a">2.10×10<tspan dy="-7.5" dx="0.5" font-size="10.7">−3</tspan></text>
<text x="1184.40" y="526.80" font-family="'Liberation Serif','Noto Serif CJK SC',serif" font-size="18.2" fill="#3a3a3a">1.84×10<tspan dy="-7.5" dx="0.5" font-size="10.7">−3</tspan></text>
<text x="1184.40" y="553.80" font-family="'Liberation Serif','Noto Serif CJK SC',serif" font-size="18.2" fill="#3a3a3a">1.57×10<tspan dy="-7.5" dx="0.5" font-size="10.7">−3</tspan></text>
<text x="1184.40" y="580.80" font-family="'Liberation Serif','Noto Serif CJK SC',serif" font-size="18.2" fill="#3a3a3a">1.31×10<tspan dy="-7.5" dx="0.5" font-size="10.7">−3</tspan></text>
<text x="1184.40" y="607.80" font-family="'Liberation Serif','Noto Serif CJK SC',serif" font-size="18.2" fill="#3a3a3a">1.05×10<tspan dy="-7.5" dx="0.5" font-size="10.7">−3</tspan></text>
<text x="1184.40" y="634.80" font-family="'Liberation Serif','Noto Serif CJK SC',serif" font-size="18.2" fill="#3a3a3a">7.87×10<tspan dy="-7.5" dx="0.5" font-size="10.7">−4</tspan></text>
<text x="1184.40" y="661.80" font-family="'Liberation Serif','Noto Serif CJK SC',serif" font-size="18.2" fill="#3a3a3a">5.25×10<tspan dy="-7.5" dx="0.5" font-size="10.7">−4</tspan></text>
<text x="1184.40" y="688.80" font-family="'Liberation Serif','Noto Serif CJK SC',serif" font-size="18.2" fill="#3a3a3a">2.62×10<tspan dy="-7.5" dx="0.5" font-size="10.7">−4</tspan></text>
<text x="1184.40" y="715.80" font-family="'Liberation Serif','Noto Serif CJK SC',serif" font-size="18.2" fill="#3a3a3a">0.00×10<tspan dy="-7.5" dx="0.5" font-size="10.7">−4</tspan></text>
<text x="1182.60" y="744.50" font-family="'DejaVu Sans Mono','Liberation Mono',monospace" font-size="13.9" fill="#333">Waves</text>
<text x="841.00" y="376.00" font-family="'Liberation Serif','Noto Serif CJK SC',serif" font-size="40.5" font-weight="bold" fill="#000">OBJ：</text>
<text x="959.60" y="376.00" font-family="'Liberation Serif','Noto Serif CJK SC',serif" font-size="40.5" font-weight="bold" fill="#000">0.00°</text>
<text x="749.00" y="398.40" font-family="'Liberation Serif','Noto Serif CJK SC',serif" font-size="21" fill="#3a3a3a" text-anchor="end">1.0</text>
<text x="751.00" y="581.50" font-family="'Liberation Serif','Noto Serif CJK SC',serif" font-size="21" fill="#3a3a3a" text-anchor="end">0</text>
<text x="749.00" y="760.60" font-family="'Liberation Serif','Noto Serif CJK SC',serif" font-size="21" fill="#3a3a3a" text-anchor="end">−1.0</text>
<text x="757.90" y="786.80" font-family="'Liberation Serif','Noto Serif CJK SC',serif" font-size="21" fill="#3a3a3a" text-anchor="middle">−1.0</text>
<text x="943.00" y="786.80" font-family="'Liberation Serif','Noto Serif CJK SC',serif" font-size="21" fill="#3a3a3a" text-anchor="middle">0</text>
<text x="1129.50" y="786.80" font-family="'Liberation Serif','Noto Serif CJK SC',serif" font-size="21" fill="#3a3a3a" text-anchor="middle">1.0</text>
<text x="825.90" y="814.80" font-family="'DejaVu Sans Mono','Liberation Mono',monospace" font-size="19.88" fill="#3a3a3a">X-Pupil (Rel. Units)</text>
<text transform="translate(668.50 692.00) rotate(-90)" font-family="'DejaVu Sans Mono','Liberation Mono',monospace" font-size="19.88" fill="#3a3a3a">Y-Pupil (Rel. Units)</text>
<text x="752.80" y="873.40" font-family="'Liberation Serif','Noto Serif CJK SC',serif" font-size="40.6" font-weight="bold" fill="#000">Peak to valley = 0.0026 λ</text>
<text x="833.00" y="921.80" font-family="'Liberation Serif','Noto Serif CJK SC',serif" font-size="40.6" font-weight="bold" fill="#000">RMS = 0.0007 λ</text>
<g filter="url(#bl)"><g transform="translate(1435.50 81.50) scale(5.89844 5.88750)">
<rect width="64" height="64" fill="#320ac8"/>
<path fill="#2e12ca" d="M26 0H39V1H43V2H46V3H48V4H50V5H51V6H52V7H54V8H55V9H56V10H57V12H58V13H59V15H60V17H61V19H62V22H63V28H64V35H63V41H62V44H61V46H60V48H59V50H58V51H57V53H56V54H55V55H54V56H53V57H51V58H50V59H48V60H46V61H43V62H39V63H25V62H21V61H18V60H16V59H15V58H13V57H12V56H10V55H9V54H8V52H7V51H6V50H5V48H4V46H3V44H2V40H1V32H0V31H1V23H2V19H3V17H4V15H5V13H6V12H7V11H8V9H9V8H10V7H12V6H13V5H15V4H16V3H19V2H21V1H26V0Z"/>
<path fill="#2622ce" d="M23 1H41V2H44V3H46V4H48V5H50V6H52V7H53V8H54V9H55V10H56V11H57V13H58V14H59V16H60V18H61V21H62V25H63V38H62V42H61V45H60V47H59V49H58V50H57V52H56V53H55V54H54V55H53V56H52V57H50V58H48V59H46V60H44V61H41V62H33V63H31V62H23V61H20V60H18V59H16V58H14V57H13V56H11V55H10V54H9V53H8V52H7V50H6V49H5V47H4V45H3V42H2V37H1V26H2V21H3V18H4V16H5V14H6V13H7V11H8V10H9V9H10V8H11V7H13V6H14V5H16V4H18V3H20V2H23V1Z"/>
<path fill="#1e33d3" d="M26 1H38V2H42V3H45V4H47V5H49V6H51V7H52V8H53V9H54V10H55V11H56V12H57V14H58V15H59V17H60V20H61V23H62V40H61V43H60V46H59V48H58V49H57V51H56V52H55V53H54V54H53V55H52V56H51V57H49V58H47V59H45V60H42V61H38V62H26V61H22V60H19V59H17V58H15V57H14V56H12V55H11V54H10V53H9V52H8V51H7V49H6V48H5V46H4V43H3V40H2V24H3V20H4V18H5V16H6V14H7V12H8V11H9V10H10V9H11V8H12V7H14V6H15V5H17V4H19V3H22V2H26V1Z"/>
<path fill="#124ad5" d="M24 2H40V3H43V4H46V5H48V6H50V7H51V8H52V9H53V10H54V11H55V12H56V13H57V15H58V17H59V19H60V21H61V26H62V37H61V42H60V44H59V47H58V48H57V50H56V51H55V52H54V53H53V54H52V55H51V56H50V57H48V58H46V59H43V60H40V61H24V60H21V59H18V58H16V57H15V56H13V55H12V54H11V53H10V52H9V51H8V50H7V48H6V46H5V44H4V41H3V36H2V27H3V22H4V19H5V17H6V15H7V13H8V12H9V11H10V10H11V9H12V8H13V7H15V6H16V5H18V4H21V3H24V2Z"/>
<path fill="#0663d6" d="M27 2H37V3H42V4H44V5H47V6H48V7H50V8H51V9H52V10H53V11H54V12H55V13H56V14H57V16H58V18H59V20H60V24H61V39H60V43H59V45H58V47H57V49H56V50H55V51H54V53H52V54H51V55H50V56H48V57H47V58H44V59H42V60H37V61H27V60H23V59H20V58H17V57H16V56H14V55H13V54H12V53H11V52H10V51H9V50H8V49H7V47H6V45H5V42H4V39H3V24H4V21H5V18H6V16H7V14H8V13H9V12H10V11H11V10H12V9H13V8H14V7H16V6H17V5H20V4H23V3H27V2Z"/>
<path fill="#007bd1" d="M25 3H39V4H43V5H45V6H47V7H49V8H50V9H52V10H53V11H54V12H55V14H56V15H57V17H58V19H59V22H60V27H61V36H60V41H59V44H58V46H57V48H56V49H55V51H54V52H53V53H52V54H50V55H49V56H47V57H45V58H43V59H39V60H25V59H21V58H19V57H17V56H15V55H14V54H13V53H11V52H10V50H9V49H8V48H7V46H6V43H5V40H4V35H3V28H4V23H5V20H6V17H7V15H8V14H9V13H10V11H11V10H13V9H14V8H15V7H17V6H19V5H21V4H25V3Z"/>
<path fill="#0091c5" d="M29 3H36V4H41V5H44V6H46V7H48V8H49V9H51V10H52V11H53V12H54V13H55V15H56V16H57V18H58V21H59V24H60V39H59V42H58V45H57V47H56V48H55V50H54V51H53V52H52V53H51V54H49V55H48V56H46V57H44V58H41V59H36V60H28V59H23V58H20V57H18V56H16V55H15V54H13V53H12V52H11V51H10V49H9V48H8V46H7V44H6V42H5V38H4V25H5V21H6V19H7V17H8V15H9V14H10V12H11V11H12V10H13V9H15V8H16V7H18V6H20V5H23V4H29V3Z"/>
<path fill="#00a7b7" d="M26 4H38V5H42V6H45V7H47V8H48V9H50V10H51V11H52V12H53V13H54V14H55V16H56V18H57V20H58V23H59V28H60V35H59V40H58V43H57V45H56V47H55V49H54V50H53V51H52V52H51V53H50V54H48V55H47V56H45V57H42V58H39V59H26V58H22V57H19V56H17V55H16V54H14V53H13V52H12V51H11V50H10V48H9V47H8V45H7V43H6V40H5V34H4V30H5V23H6V20H7V18H8V16H9V15H10V13H11V12H12V11H13V10H14V9H16V8H17V7H19V6H22V5H26V4Z"/>
<path fill="#00baa3" d="M30 4H34V5H40V6H43V7H46V8H47V9H49V10H50V11H51V12H52V13H53V14H54V15H55V17H56V19H57V21H58V25H59V38H58V42H57V44H56V46H55V48H54V49H53V50H52V51H51V52H50V53H49V54H47V55H46V56H43V57H40V58H34V59H30V58H24V57H21V56H19V55H17V54H15V53H14V52H13V51H12V50H11V49H10V47H9V46H8V44H7V41H6V37H5V26H6V22H7V19H8V17H9V16H10V14H11V13H12V12H13V11H14V10H15V9H17V8H19V7H21V6H24V5H30V4Z"/>
<path fill="#00cd8f" d="M26 5H38V6H42V7H44V8H46V9H48V10H49V11H50V12H51V13H52V14H53V15H54V16H55V18H56V20H57V23H58V30H59V33H58V40H57V43H56V45H55V47H54V48H53V49H52V50H51V51H50V52H49V53H48V54H46V55H44V56H42V57H38V58H26V57H22V56H20V55H18V54H16V53H15V52H14V51H13V50H12V49H11V48H10V46H9V45H8V42H7V39H6V24H7V21H8V18H9V17H10V15H11V14H12V13H13V12H14V11H15V10H16V9H18V8H20V7H22V6H26V5Z"/>
<path fill="#00d676" d="M25 6H40V7H43V8H45V9H47V10H48V11H49V12H51V13H52V15H53V16H54V18H55V20H56V22H57V26H58V37H57V41H56V44H55V45H54V47H53V48H52V50H51V51H50V52H48V53H47V54H45V55H43V56H40V57H24V56H21V55H19V54H17V53H16V52H15V51H14V50H13V49H12V48H11V47H10V45H9V43H8V41H7V36H6V27H7V22H8V20H9V18H10V16H11V15H12V14H13V13H14V12H15V11H16V10H17V9H19V8H21V7H25V6Z"/>
<path fill="#00df5e" d="M27 6H37V7H41V8H44V9H46V10H47V11H49V12H50V13H51V14H52V16H53V17H54V19H55V21H56V24H57V39H56V42H55V44H54V46H53V47H52V49H51V50H50V51H49V52H47V53H46V54H44V55H41V56H37V57H27V56H23V55H20V54H18V53H17V52H16V51H14V50H13V49H12V47H11V46H10V44H9V42H8V38H7V25H8V21H9V19H10V17H11V16H12V14H13V13H14V12H16V11H17V10H19V9H20V8H23V7H27V6Z"/>
<path fill="#0be641" d="M25 7H39V8H42V9H44V10H46V11H48V12H49V13H50V14H51V15H52V17H53V18H54V20H55V23H56V27H57V36H56V40H55V43H54V45H53V46H52V48H51V49H50V50H49V51H48V52H46V53H44V54H42V55H39V56H25V55H22V54H20V53H18V52H16V51H15V50H14V49H13V48H12V46H11V45H10V43H9V40H8V35H7V28H8V23H9V20H10V18H11V17H12V15H13V14H14V13H15V12H16V11H18V10H20V9H22V8H25V7Z"/>
<path fill="#1dec21" d="M28 7H36V8H40V9H43V10H45V11H47V12H48V13H49V14H50V15H51V16H52V18H53V19H54V22H55V25H56V38H55V41H54V44H53V45H52V47H51V48H50V49H49V50H48V51H47V52H45V53H43V54H40V55H36V56H28V55H24V54H21V53H19V52H17V51H16V50H15V49H14V48H13V47H12V45H11V43H10V41H9V38H8V25H9V22H10V20H11V18H12V16H13V15H14V14H15V13H16V12H17V11H19V10H21V9H24V8H28V7Z"/>
<path fill="#33f00f" d="M26 8H38V9H42V10H44V11H46V12H47V13H48V14H49V15H50V16H51V17H52V19H53V21H54V23H55V28H56V35H55V40H54V42H53V44H52V46H51V47H50V48H49V49H48V50H47V51H46V52H44V53H42V54H38V55H26V54H23V53H20V52H18V51H17V50H16V49H15V48H14V47H13V46H12V44H11V42H10V39H9V34H8V29H9V24H10V21H11V19H12V17H13V16H14V15H15V14H16V13H17V12H19V11H20V10H23V9H26V8Z"/>
<path fill="#4df405" d="M30 8H34V9H40V10H43V11H44V12H46V13H47V14H49V16H50V17H51V18H52V20H53V22H54V25H55V38H54V41H53V43H52V45H51V46H50V47H49V49H47V50H46V51H45V52H43V53H40V54H35V55H29V54H24V53H22V52H20V51H18V50H17V49H16V48H15V47H14V46H13V45H12V43H11V41H10V37H9V26H10V22H11V20H12V18H13V17H14V16H15V15H16V14H17V13H18V12H20V11H22V10H24V9H30V8Z"/>
<path fill="#62f703" d="M27 9H37V10H41V11H43V12H45V13H46V14H48V15H49V16H50V18H51V19H52V21H53V24H54V29H55V34H54V39H53V42H52V44H51V45H50V47H49V48H48V49H46V50H45V51H43V52H41V53H38V54H27V53H23V52H21V51H19V50H18V49H16V48H15V46H14V45H13V44H12V42H11V39H10V24H11V21H12V19H13V18H14V17H15V15H16V14H18V13H19V12H21V11H23V10H27V9Z"/>
<path fill="#76f901" d="M25 10H39V11H42V12H44V13H45V14H47V15H48V16H49V17H50V19H51V20H52V23H53V26H54V37H53V40H52V43H51V44H50V46H49V47H48V48H47V49H46V50H44V51H42V52H39V53H25V52H22V51H20V50H19V49H17V48H16V47H15V46H14V44H13V42H12V40H11V36H10V27H11V23H12V21H13V19H14V17H15V16H16V15H17V14H19V13H20V12H22V11H25V10Z"/>
<path fill="#88fa00" d="M27 10H37V11H40V12H43V13H44V14H46V15H47V16H48V17H49V18H50V20H51V22H52V24H53V39H52V41H51V43H50V45H49V46H48V47H47V48H46V49H44V50H43V51H40V52H37V53H27V52H24V51H21V50H20V49H18V48H17V47H16V46H15V45H14V43H13V41H12V38H11V25H12V22H13V20H14V18H15V17H16V16H17V15H18V14H20V13H21V12H24V11H27V10Z"/>
<path fill="#96fa00" d="M26 11H39V12H41V13H43V14H45V15H46V16H47V17H48V18H49V19H50V21H51V23H52V27H53V36H52V40H51V42H50V44H49V45H48V46H47V47H46V48H45V49H43V50H41V51H39V52H26V51H23V50H21V49H19V48H18V47H17V46H16V45H15V44H14V42H13V39H12V35H11V28H12V24H13V21H14V19H15V18H16V17H17V16H18V15H19V14H21V13H23V12H26V11Z"/>
<path fill="#a3fa00" d="M28 11H36V12H40V13H42V14H44V15H45V16H46V17H47V18H48V19H49V20H50V22H51V25H52V38H51V41H50V43H49V44H48V45H47V46H46V47H45V48H44V49H42V50H40V51H36V52H28V51H24V50H22V49H20V48H19V47H18V46H17V45H16V44H15V42H14V40H13V37H12V26H13V23H14V21H15V19H16V18H17V17H18V16H19V15H20V14H22V13H24V12H28V11Z"/>
<path fill="#b1fa00" d="M26 12H38V13H41V14H43V15H44V16H46V17H47V19H48V20H49V22H50V24H51V28H52V35H51V39H50V41H49V43H48V45H47V46H46V47H44V48H43V49H41V50H38V51H26V50H23V49H21V48H20V47H19V46H17V44H16V43H15V41H14V39H13V34H12V29H13V24H14V22H15V20H16V19H17V18H18V17H19V16H20V15H21V14H23V13H26V12Z"/>
<path fill="#bcf800" d="M29 12H35V13H39V14H42V15H43V16H45V17H46V18H47V19H48V21H49V23H50V26H51V37H50V40H49V42H48V44H47V45H46V46H45V47H43V48H42V49H39V50H35V51H29V50H25V49H22V48H21V47H19V46H18V45H17V43H16V42H15V40H14V37H13V26H14V23H15V21H16V20H17V18H18V17H19V16H21V15H23V14H25V13H29V12Z"/>
<path fill="#c6f500" d="M27 13H37V14H40V15H42V16H44V17H45V18H46V19H47V20H48V22H49V24H50V29H51V34H50V39H49V41H48V43H47V44H46V45H45V46H44V47H42V48H40V49H37V50H27V49H24V48H22V47H20V46H19V45H18V44H17V42H16V41H15V38H14V33H13V30H14V25H15V22H16V21H17V19H18V18H19V17H20V16H22V15H24V14H27V13Z"/>
<path fill="#cff200" d="M31 13H33V14H39V15H41V16H43V17H44V18H45V19H46V20H47V22H48V23H49V26H50V37H49V40H48V42H47V43H46V44H45V45H44V46H43V47H41V48H39V49H33V50H31V49H25V48H23V47H21V46H20V45H19V44H18V43H17V41H16V39H15V36H14V27H15V24H16V22H17V20H18V19H19V18H20V17H21V16H23V15H25V14H31V13Z"/>
<path fill="#d8ef00" d="M28 14H36V15H40V16H42V17H43V18H44V19H45V20H46V21H47V23H48V25H49V30H50V33H49V38H48V40H47V42H46V43H45V44H44V45H43V46H42V47H40V48H37V49H28V48H24V47H22V46H21V45H20V44H19V43H18V42H17V40H16V38H15V25H16V23H17V21H18V20H19V19H20V18H21V17H22V16H24V15H28V14Z"/>
<path fill="#e0e500" d="M26 15H38V16H40V17H42V18H43V19H45V21H46V22H47V24H48V27H49V36H48V39H47V41H46V42H45V44H43V45H42V46H41V47H38V48H26V47H24V46H22V45H21V44H20V43H19V42H18V41H17V39H16V35H15V28H16V24H17V22H18V21H19V20H20V19H21V18H22V17H24V16H26V15Z"/>
<path fill="#e7db00" d="M28 15H36V16H39V17H41V18H43V19H44V20H45V22H46V23H47V26H48V37H47V40H46V41H45V43H44V44H43V45H41V46H39V47H36V48H28V47H25V46H23V45H22V44H20V43H19V41H18V40H17V37H16V26H17V23H18V22H19V20H20V19H22V18H23V17H25V16H28V15Z"/>
<path fill="#ebc900" d="M27 16H37V17H40V18H42V19H43V20H44V21H45V23H46V25H47V28H48V35H47V38H46V40H45V42H44V43H43V44H42V45H40V46H37V47H27V46H24V45H23V44H21V43H20V42H19V40H18V38H17V34H16V29H17V25H18V23H19V21H20V20H21V19H23V18H24V17H27V16Z"/>
<path fill="#eeb700" d="M29 16H35V17H39V18H41V19H42V20H43V21H44V22H45V24H46V26H47V37H46V39H45V41H44V42H43V43H42V44H41V45H39V46H35V47H29V46H26V45H24V44H22V43H21V42H20V41H19V39H18V36H17V27H18V24H19V22H20V21H21V20H22V19H24V18H26V17H29V16Z"/>
<path fill="#f0a500" d="M27 17H37V18H39V19H41V20H42V21H43V22H44V23H45V25H46V29H47V34H46V38H45V40H44V41H43V42H42V43H41V44H39V45H37V46H27V45H25V44H23V43H22V42H21V41H20V40H19V38H18V33H17V30H18V25H19V23H20V22H21V21H22V20H23V19H25V18H27V17Z"/>
<path fill="#f18f00" d="M30 17H34V18H38V19H40V20H41V21H42V22H43V23H44V24H45V27H46V36H45V39H44V40H43V41H42V42H41V43H40V44H38V45H34V46H30V45H26V44H24V43H23V42H22V41H21V40H20V38H19V36H18V27H19V25H20V23H21V22H22V21H23V20H24V19H26V18H30V17Z"/>
<path fill="#f27a00" d="M28 18H36V19H39V20H40V21H42V22H43V24H44V26H45V30H46V33H45V37H44V39H43V41H42V42H40V43H39V44H36V45H28V44H25V43H24V42H22V40H21V39H20V37H19V26H20V24H21V23H22V21H24V20H25V19H28V18Z"/>
<path fill="#f26300" d="M27 19H37V20H39V21H41V22H42V23H43V25H44V28H45V36H44V38H43V40H42V41H41V42H39V43H37V44H27V43H25V42H23V41H22V40H21V38H20V35H19V28H20V25H21V24H22V22H23V21H25V20H27V19Z"/>
<path fill="#f24a00" d="M29 19H35V20H38V21H40V22H41V23H42V24H43V26H44V37H43V39H42V40H41V41H40V42H38V43H36V44H29V43H26V42H24V41H23V40H22V38H21V36H20V27H21V25H22V23H23V22H24V21H26V20H29V19Z"/>
<path fill="#f23200" d="M27 20H37V21H39V22H40V23H41V24H42V25H43V28H44V35H43V38H42V39H41V40H40V41H39V42H37V43H27V42H25V41H24V40H23V39H22V37H21V34H20V29H21V26H22V24H23V23H24V22H25V21H27V20Z"/>
<path fill="#f01a00" d="M29 20H35V21H38V22H39V23H40V24H41V25H42V27H43V36H42V38H41V39H40V40H39V41H38V42H35V43H29V42H26V41H25V40H24V39H23V38H22V36H21V27H22V25H23V24H24V23H25V22H26V21H29V20Z"/>
<path fill="#ee0d00" d="M28 21H36V22H38V23H40V25H41V26H42V29H43V34H42V37H41V38H40V40H38V41H36V42H28V41H26V40H25V39H24V38H23V37H22V33H21V30H22V26H23V25H24V24H25V23H26V22H28V21Z"/>
<path fill="#ec0700" d="M30 21H34V22H37V23H39V24H40V25H41V27H42V36H41V38H40V39H39V40H37V41H34V42H30V41H27V40H25V39H24V37H23V35H22V28H23V26H24V24H25V23H27V22H30V21Z"/>
<path fill="#e90200" d="M28 22H36V23H38V24H39V25H40V27H41V30H42V33H41V36H40V38H39V39H38V40H36V41H28V40H26V39H25V38H24V36H23V32H22V31H23V27H24V25H25V24H26V23H28V22Z"/>
<path fill="#e50000" d="M32 22H33V23H37V24H38V25H39V26H40V28H41V35H40V37H39V38H38V39H37V40H33V41H31V40H28V39H26V38H25V37H24V35H23V28H24V26H25V25H26V24H28V23H32V22Z"/>
<path fill="#e00000" d="M29 23H35V24H37V25H38V26H39V27H40V31H41V32H40V36H39V37H38V38H37V39H35V40H29V39H27V38H26V37H25V36H24V27H25V26H26V25H27V24H29V23Z"/>
<path fill="#db0000" d="M28 24H36V25H37V26H38V27H39V29H40V34H39V36H38V37H37V38H36V39H28V38H27V37H26V36H25V34H24V29H25V27H26V26H27V25H28V24Z"/>
<path fill="#d60000" d="M30 24H34V25H37V26H38V28H39V35H38V37H37V38H34V39H30V38H28V37H26V35H25V28H26V26H28V25H30V24Z"/>
<path fill="#d20000" d="M29 25H35V26H37V27H38V29H39V34H38V36H37V37H35V38H29V37H27V36H26V33H25V30H26V27H27V26H29V25Z"/>
<path fill="#cf0000" d="M30 25H34V26H36V27H37V28H38V35H37V36H36V37H34V38H30V37H28V36H27V34H26V29H27V27H28V26H30V25Z"/>
<path fill="#cc0000" d="M29 26H35V27H36V28H37V30H38V33H37V35H36V36H35V37H29V36H28V35H27V33H26V30H27V28H28V27H29V26Z"/>
<path fill="#ca0000" d="M31 26H33V27H35V28H36V29H37V34H36V35H35V36H33V37H31V36H29V35H28V34H27V29H28V28H29V27H31V26Z"/>
<path fill="#c80000" d="M30 27H34V28H36V31H37V32H36V35H34V36H30V35H29V34H28V29H29V28H30V27Z"/>
<path fill="#c60000" d="M29 28H35V29H36V34H35V35H29V33H28V30H29V28Z"/>
<path fill="#c40000" d="M30 28H34V29H35V34H34V35H30V34H29V29H30V28Z"/>
<path fill="#c30000" d="M30 29H34V30H35V33H34V34H30V33H29V30H30V29Z"/>
<path fill="#c20000" d="M31 29H33V30H34V33H33V34H31V33H30V30H31V29Z"/>
<path fill="#c10000" d="M31 30H33V31H34V32H33V33H31V32H30V31H31V30Z"/>
<path fill="#c00000" d="M32 30H33V33H31V31H32V30Z"/>
<path fill="#c00000" d="M31 31H33V32H31V31Z"/>
</g></g>
<path d="M1434.90 81.50V458.80" fill="none" stroke="#888" stroke-width="1.3"/>
<path d="M1435.50 458.00H1813.00" fill="none" stroke="#1c0078" stroke-width="1" opacity="0.7"/>
<rect x="1830.80" y="118.40" width="34.40" height="271.60" fill="url(#cb)"/>
<text x="1871.60" y="128.00" font-family="'Liberation Serif','Noto Serif CJK SC',serif" font-size="17.8" fill="#3a3a3a">0.000</text>
<text x="1871.60" y="154.83" font-family="'Liberation Serif','Noto Serif CJK SC',serif" font-size="17.8" fill="#3a3a3a" textLength="59.3" lengthAdjust="spacingAndGlyphs">−0.0091</text>
<text x="1871.60" y="181.66" font-family="'Liberation Serif','Noto Serif CJK SC',serif" font-size="17.8" fill="#3a3a3a" textLength="59.3" lengthAdjust="spacingAndGlyphs">−0.0183</text>
<text x="1871.60" y="208.49" font-family="'Liberation Serif','Noto Serif CJK SC',serif" font-size="17.8" fill="#3a3a3a" textLength="59.3" lengthAdjust="spacingAndGlyphs">−0.0274</text>
<text x="1871.60" y="235.32" font-family="'Liberation Serif','Noto Serif CJK SC',serif" font-size="17.8" fill="#3a3a3a" textLength="59.3" lengthAdjust="spacingAndGlyphs">−0.0366</text>
<text x="1871.60" y="262.15" font-family="'Liberation Serif','Noto Serif CJK SC',serif" font-size="17.8" fill="#3a3a3a" textLength="59.3" lengthAdjust="spacingAndGlyphs">−0.0457</text>
<text x="1871.60" y="288.98" font-family="'Liberation Serif','Noto Serif CJK SC',serif" font-size="17.8" fill="#3a3a3a" textLength="59.3" lengthAdjust="spacingAndGlyphs">−0.0548</text>
<text x="1871.60" y="315.81" font-family="'Liberation Serif','Noto Serif CJK SC',serif" font-size="17.8" fill="#3a3a3a" textLength="59.3" lengthAdjust="spacingAndGlyphs">−0.0640</text>
<text x="1871.60" y="342.64" font-family="'Liberation Serif','Noto Serif CJK SC',serif" font-size="17.8" fill="#3a3a3a" textLength="59.3" lengthAdjust="spacingAndGlyphs">−0.0731</text>
<text x="1871.60" y="369.47" font-family="'Liberation Serif','Noto Serif CJK SC',serif" font-size="17.8" fill="#3a3a3a" textLength="59.3" lengthAdjust="spacingAndGlyphs">−0.0823</text>
<text x="1871.60" y="396.30" font-family="'Liberation Serif','Noto Serif CJK SC',serif" font-size="17.8" fill="#3a3a3a" textLength="59.3" lengthAdjust="spacingAndGlyphs">−0.0914</text>
<text x="1867.70" y="427.00" font-family="'DejaVu Sans Mono','Liberation Mono',monospace" font-size="13.9" fill="#333">Waves</text>
<text x="1523.60" y="68.20" font-family="'Liberation Serif','Noto Serif CJK SC',serif" font-size="40.5" font-weight="bold" fill="#000">OBJ：</text>
<text x="1642.80" y="68.20" font-family="'Liberation Serif','Noto Serif CJK SC',serif" font-size="40.5" font-weight="bold" fill="#000">1.66°</text>
<text x="1428.50" y="93.70" font-family="'Liberation Serif','Noto Serif CJK SC',serif" font-size="21" fill="#3a3a3a" text-anchor="end">1.0</text>
<text x="1431.50" y="278.00" font-family="'Liberation Serif','Noto Serif CJK SC',serif" font-size="21" fill="#3a3a3a" text-anchor="end">0</text>
<text x="1428.50" y="460.00" font-family="'Liberation Serif','Noto Serif CJK SC',serif" font-size="21" fill="#3a3a3a" text-anchor="end">−1.0</text>
<text x="1435.30" y="484.80" font-family="'Liberation Serif','Noto Serif CJK SC',serif" font-size="21" fill="#3a3a3a" text-anchor="middle">−1.0</text>
<text x="1625.80" y="484.80" font-family="'Liberation Serif','Noto Serif CJK SC',serif" font-size="21" fill="#3a3a3a" text-anchor="middle">0</text>
<text x="1814.20" y="484.80" font-family="'Liberation Serif','Noto Serif CJK SC',serif" font-size="21" fill="#3a3a3a" text-anchor="middle">1.0</text>
<text x="1505.80" y="513.50" font-family="'DejaVu Sans Mono','Liberation Mono',monospace" font-size="20.13" fill="#3a3a3a">X-Pupil (Rel. Units)</text>
<text transform="translate(1347.00 387.00) rotate(-90)" font-family="'DejaVu Sans Mono','Liberation Mono',monospace" font-size="20.13" fill="#3a3a3a">Y-Pupil (Rel. Units)</text>
<text x="1422.70" y="563.20" font-family="'Liberation Serif','Noto Serif CJK SC',serif" font-size="40.6" font-weight="bold" fill="#000">Peak to valley = 0.0914 λ</text>
<text x="1497.80" y="610.30" font-family="'Liberation Serif','Noto Serif CJK SC',serif" font-size="40.6" font-weight="bold" fill="#000">RMS = 0.0263 λ</text>
<g filter="url(#bl)"><g transform="translate(1431.10 713.30) scale(5.87500 5.85156)">
<rect width="64" height="64" fill="#320ac8"/>
<path fill="#2e12ca" d="M25 0H40V1H43V2H46V3H48V4H50V5H52V6H53V7H54V8H55V9H56V10H57V11H58V12H59V14H60V16H61V18H62V21H63V25H64V39H63V43H62V46H61V48H60V50H59V51H58V53H57V54H56V55H55V56H54V57H52V58H51V59H49V60H47V61H45V62H42V63H37V64H28V63H22V62H19V61H17V60H15V59H13V58H12V57H11V56H10V55H9V54H8V53H7V52H6V51H5V49H4V47H3V45H2V42H1V36H0V27H1V22H2V19H3V17H4V15H5V13H6V12H7V10H8V9H9V8H10V7H11V6H13V5H14V4H16V3H18V2H21V1H25V0Z"/>
<path fill="#2622ce" d="M29 0H35V1H41V2H45V3H47V4H49V5H51V6H52V7H53V8H54V9H55V10H56V11H57V12H58V13H59V15H60V17H61V19H62V23H63V29H64V35H63V41H62V44H61V47H60V48H59V50H58V52H57V53H56V54H55V55H54V56H53V57H51V58H50V59H48V60H46V61H43V62H39V63H25V62H21V61H18V60H16V59H15V58H13V57H12V56H11V55H9V53H8V52H7V51H6V49H5V48H4V46H3V43H2V39H1V24H2V21H3V18H4V16H5V14H6V13H7V11H8V10H9V9H10V8H11V7H12V6H14V5H15V4H17V3H20V2H23V1H29V0Z"/>
<path fill="#1e33d3" d="M26 1H39V2H43V3H46V4H48V5H50V6H51V7H52V8H54V9H55V10H56V12H57V13H58V14H59V16H60V18H61V21H62V25H63V38H62V42H61V45H60V47H59V49H58V51H57V52H56V53H55V54H54V55H53V56H52V57H50V58H49V59H47V60H44V61H41V62H35V63H29V62H23V61H20V60H18V59H16V58H14V57H13V56H11V55H10V54H9V53H8V51H7V50H6V48H5V46H4V44H3V41H2V35H1V29H2V23H3V19H4V17H5V15H6V14H7V12H8V11H9V10H10V9H11V8H12V7H13V6H15V5H17V4H19V3H22V2H26V1Z"/>
<path fill="#124ad5" d="M24 2H41V3H44V4H46V5H48V6H50V7H51V8H53V9H54V10H55V11H56V13H57V14H58V16H59V18H60V20H61V23H62V40H61V43H60V46H59V48H58V50H57V51H56V52H55V53H54V54H53V55H52V56H51V57H49V58H48V59H45V60H43V61H38V62H26V61H22V60H19V59H17V58H15V57H14V56H12V55H11V54H10V53H9V52H8V50H7V49H6V47H5V45H4V42H3V38H2V25H3V21H4V19H5V16H6V15H7V13H8V12H9V11H10V10H11V9H12V8H13V7H14V6H16V5H18V4H20V3H24V2Z"/>
<path fill="#0663d6" d="M27 2H38V3H42V4H45V5H47V6H49V7H50V8H52V9H53V10H54V11H55V12H56V14H57V15H58V17H59V19H60V22H61V26H62V37H61V42H60V44H59V47H58V48H57V50H56V51H55V52H54V53H53V54H52V55H51V56H50V57H48V58H46V59H44V60H40V61H24V60H21V59H18V58H16V57H15V56H13V55H12V54H11V53H10V52H9V51H8V49H7V48H6V46H5V43H4V40H3V23H4V20H5V18H6V16H7V14H8V13H9V12H10V10H12V9H13V8H14V7H15V6H17V5H19V4H22V3H27V2Z"/>
<path fill="#007bd1" d="M24 3H40V4H43V5H46V6H48V7H49V8H51V9H52V10H53V11H54V12H55V13H56V15H57V16H58V18H59V21H60V24H61V39H60V43H59V45H58V47H57V49H56V50H55V52H54V53H53V54H51V55H50V56H49V57H47V58H45V59H42V60H37V61H27V60H22V59H20V58H17V57H16V56H14V55H13V54H12V53H11V52H10V51H9V50H8V48H7V47H6V44H5V42H4V37H3V26H4V22H5V19H6V17H7V15H8V14H9V12H10V11H11V10H12V9H14V8H15V7H17V6H19V5H21V4H24V3Z"/>
<path fill="#0091c5" d="M28 3H37V4H41V5H44V6H47V7H48V8H50V9H51V10H52V11H53V12H54V13H55V14H56V16H57V17H58V20H59V23H60V28H61V36H60V41H59V44H58V46H57V48H56V49H55V51H54V52H53V53H52V54H51V55H49V56H48V57H46V58H43V59H40V60H25V59H21V58H19V57H17V56H15V55H14V54H13V53H12V52H11V51H10V50H9V49H8V47H7V45H6V43H5V39H4V24H5V21H6V18H7V16H8V15H9V13H10V12H11V11H12V10H13V9H15V8H16V7H18V6H20V5H23V4H28V3Z"/>
<path fill="#00a7b7" d="M25 4H39V5H43V6H45V7H47V8H49V9H50V10H51V11H52V12H53V13H54V14H55V15H56V17H57V19H58V21H59V25H60V39H59V42H58V45H57V47H56V48H55V50H54V51H53V52H52V53H51V54H50V55H48V56H46V57H44V58H41V59H36V60H28V59H23V58H20V57H18V56H16V55H15V54H14V53H12V52H11V50H10V49H9V48H8V46H7V44H6V41H5V36H4V27H5V23H6V20H7V18H8V16H9V14H10V13H11V12H12V11H13V10H14V9H16V8H17V7H19V6H22V5H25V4Z"/>
<path fill="#00baa3" d="M29 4H35V5H41V6H44V7H46V8H48V9H49V10H50V11H52V12H53V14H54V15H55V16H56V18H57V20H58V23H59V29H60V35H59V40H58V43H57V45H56V47H55V49H54V50H53V51H52V52H51V53H50V54H49V55H47V56H45V57H43V58H39V59H26V58H22V57H19V56H17V55H16V54H14V53H13V52H12V51H11V50H10V48H9V47H8V45H7V42H6V39H5V25H6V21H7V19H8V17H9V15H10V14H11V13H12V12H13V11H14V10H15V9H17V8H18V7H21V6H24V5H29V4Z"/>
<path fill="#00cd8f" d="M26 5H38V6H42V7H45V8H47V9H48V10H50V11H51V12H52V13H53V14H54V16H55V17H56V19H57V22H58V26H59V38H58V42H57V44H56V46H55V48H54V49H53V50H52V51H51V52H50V53H49V54H47V55H46V56H44V57H41V58H35V59H30V58H24V57H21V56H19V55H17V54H15V53H14V52H13V51H12V50H11V49H10V47H9V45H8V43H7V40H6V35H5V29H6V23H7V20H8V18H9V16H10V15H11V14H12V13H13V12H14V11H15V10H16V9H18V8H20V7H22V6H26V5Z"/>
<path fill="#00d676" d="M24 6H40V7H43V8H45V9H47V10H49V11H50V12H51V13H52V14H53V15H54V17H55V19H56V21H57V24H58V40H57V43H56V45H55V47H54V48H53V49H52V51H50V52H49V53H48V54H46V55H44V56H42V57H38V58H26V57H23V56H20V55H18V54H16V53H15V52H14V51H13V50H12V49H11V48H10V46H9V44H8V42H7V38H6V26H7V22H8V20H9V18H10V16H11V15H12V13H13V12H15V11H16V10H17V9H19V8H21V7H24V6Z"/>
<path fill="#00df5e" d="M27 6H37V7H41V8H44V9H46V10H48V11H49V12H50V13H51V14H52V15H53V16H54V18H55V20H56V23H57V27H58V37H57V41H56V44H55V46H54V47H53V48H52V50H51V51H50V52H48V53H47V54H45V55H43V56H40V57H25V56H21V55H19V54H18V53H16V52H15V51H14V50H13V49H12V48H11V46H10V45H9V43H8V40H7V24H8V21H9V19H10V17H11V16H12V14H13V13H14V12H15V11H17V10H18V9H20V8H23V7H27V6Z"/>
<path fill="#0be641" d="M25 7H39V8H43V9H45V10H47V11H48V12H49V13H50V14H51V15H52V16H53V17H54V19H55V22H56V25H57V39H56V42H55V44H54V46H53V48H52V49H51V50H50V51H49V52H47V53H46V54H44V55H41V56H37V57H27V56H23V55H21V54H19V53H17V52H16V51H15V50H14V49H13V48H12V47H11V45H10V43H9V41H8V37H7V27H8V23H9V20H10V18H11V17H12V15H13V14H14V13H15V12H16V11H18V10H20V9H22V8H25V7Z"/>
<path fill="#1dec21" d="M28 7H36V8H41V9H43V10H45V11H47V12H48V13H49V14H50V15H51V16H52V17H53V19H54V21H55V23H56V28H57V36H56V40H55V43H54V45H53V47H52V48H51V49H50V50H49V51H48V52H46V53H45V54H42V55H39V56H25V55H22V54H20V53H18V52H17V51H15V50H14V49H13V47H12V46H11V44H10V42H9V39H8V25H9V22H10V19H11V18H12V16H13V15H14V14H15V13H16V12H17V11H19V10H21V9H24V8H28V7Z"/>
<path fill="#33f00f" d="M26 8H39V9H42V10H44V11H46V12H47V13H49V14H50V15H51V17H52V18H53V20H54V22H55V25H56V38H55V41H54V44H53V45H52V47H51V48H50V49H49V50H48V51H47V52H45V53H43V54H41V55H36V56H28V55H24V54H21V53H19V52H18V51H16V50H15V49H14V48H13V46H12V45H11V43H10V40H9V36H8V28H9V23H10V21H11V19H12V17H13V16H14V15H15V14H16V13H17V12H18V11H20V10H22V9H26V8Z"/>
<path fill="#4df405" d="M29 8H35V9H40V10H43V11H45V12H46V13H48V14H49V15H50V16H51V18H52V19H53V21H54V24H55V29H56V34H55V40H54V42H53V44H52V46H51V47H50V48H49V49H48V50H47V51H46V52H44V53H42V54H38V55H26V54H23V53H20V52H19V51H17V50H16V49H15V48H14V47H13V45H12V44H11V41H10V38H9V25H10V22H11V20H12V18H13V17H14V16H15V15H16V14H17V13H18V12H20V11H22V10H24V9H29V8Z"/>
<path fill="#62f703" d="M27 9H38V10H41V11H44V12H45V13H47V14H48V15H49V16H50V17H51V19H52V20H53V23H54V26H55V37H54V41H53V43H52V45H51V46H50V48H49V49H47V50H46V51H45V52H43V53H40V54H35V55H30V54H24V53H22V52H20V51H18V50H17V49H16V48H15V47H14V46H13V44H12V42H11V40H10V35H9V29H10V24H11V21H12V19H13V18H14V17H15V15H16V14H18V13H19V12H21V11H23V10H27V9Z"/>
<path fill="#76f901" d="M25 10H39V11H42V12H44V13H46V14H47V15H48V16H49V17H50V18H51V20H52V22H53V25H54V39H53V42H52V44H51V45H50V47H49V48H48V49H47V50H45V51H43V52H41V53H38V54H27V53H23V52H21V51H19V50H18V49H17V48H16V47H15V46H14V45H13V43H12V41H11V37H10V26H11V23H12V21H13V19H14V17H15V16H16V15H17V14H19V13H20V12H22V11H25V10Z"/>
<path fill="#88fa00" d="M27 10H37V11H41V12H43V13H45V14H46V15H47V16H48V17H49V18H50V19H51V21H52V23H53V27H54V36H53V40H52V42H51V44H50V46H49V47H48V48H47V49H46V50H44V51H42V52H39V53H25V52H22V51H20V50H19V49H18V48H17V47H16V46H15V45H14V44H13V42H12V39H11V25H12V22H13V20H14V18H15V17H16V16H17V15H18V14H20V13H21V12H24V11H27V10Z"/>
<path fill="#96fa00" d="M26 11H39V12H42V13H44V14H45V15H46V16H48V18H49V19H50V20H51V22H52V25H53V38H52V41H51V43H50V45H49V46H48V47H47V48H46V49H44V50H43V51H40V52H37V53H28V52H24V51H22V50H20V49H19V48H17V47H16V45H15V44H14V42H13V40H12V36H11V27H12V23H13V21H14V19H15V18H16V17H17V16H18V15H19V14H21V13H23V12H26V11Z"/>
<path fill="#a3fa00" d="M28 11H36V12H40V13H42V14H44V15H46V16H47V17H48V18H49V20H50V22H51V24H52V28H53V35H52V40H51V42H50V44H49V45H48V46H47V47H46V48H45V49H43V50H41V51H39V52H26V51H23V50H21V49H19V48H18V47H17V46H16V45H15V43H14V41H13V38H12V25H13V23H14V21H15V19H16V18H17V17H18V16H19V15H20V14H22V13H24V12H28V11Z"/>
<path fill="#b1fa00" d="M26 12H38V13H41V14H43V15H45V16H46V17H47V18H48V19H49V21H50V23H51V26H52V38H51V41H50V43H49V44H48V45H47V46H46V47H45V48H44V49H42V50H40V51H36V52H29V51H25V50H22V49H21V48H19V47H18V46H17V45H16V43H15V42H14V39H13V35H12V28H13V24H14V22H15V20H16V19H17V18H18V17H19V16H20V15H21V14H23V13H26V12Z"/>
<path fill="#bcf800" d="M30 12H35V13H39V14H42V15H44V16H45V17H46V18H47V19H48V20H49V22H50V25H51V29H52V34H51V39H50V41H49V43H48V44H47V46H46V47H44V48H43V49H41V50H38V51H27V50H24V49H22V48H20V47H19V46H18V45H17V44H16V42H15V40H14V37H13V26H14V23H15V21H16V20H17V18H18V17H19V16H21V15H23V14H25V13H30V12Z"/>
<path fill="#c6f500" d="M27 13H37V14H40V15H42V16H44V17H45V18H46V19H47V20H48V22H49V24H50V27H51V37H50V40H49V42H48V43H47V45H46V46H45V47H43V48H42V49H39V50H35V51H30V50H25V49H23V48H21V47H20V46H19V45H18V44H17V43H16V41H15V39H14V34H13V29H14V25H15V22H16V21H17V19H18V18H19V17H20V16H22V15H24V14H27V13Z"/>
<path fill="#cff200" d="M32 13H33V14H39V15H41V16H43V17H44V18H45V19H46V20H47V21H48V23H49V25H50V38H49V41H48V42H47V44H46V45H45V46H44V47H42V48H40V49H37V50H27V49H24V48H22V47H21V46H19V45H18V43H17V42H16V40H15V37H14V27H15V24H16V22H17V20H18V19H19V18H20V17H21V16H23V15H26V14H32V13Z"/>
<path fill="#d8ef00" d="M28 14H37V15H40V16H42V17H43V18H45V19H46V21H47V22H48V24H49V28H50V36H49V39H48V41H47V43H46V44H45V45H44V46H43V47H41V48H39V49H26V48H23V47H22V46H20V45H19V44H18V42H17V41H16V38H15V25H16V23H17V21H18V20H19V19H20V18H21V17H23V16H25V15H28V14Z"/>
<path fill="#e0e500" d="M26 15H38V16H41V17H42V18H44V19H45V20H46V22H47V23H48V26H49V38H48V40H47V42H46V43H45V44H44V45H43V46H42V47H40V48H36V49H28V48H25V47H23V46H21V45H20V44H19V43H18V41H17V39H16V36H15V28H16V24H17V22H18V21H19V20H20V19H21V18H22V17H24V16H26V15Z"/>
<path fill="#e7db00" d="M29 15H36V16H39V17H41V18H43V19H44V20H45V21H46V23H47V25H48V29H49V35H48V39H47V41H46V42H45V43H44V44H43V45H42V46H40V47H38V48H27V47H24V46H22V45H21V44H20V43H19V42H18V40H17V38H16V26H17V24H18V22H19V21H20V19H22V18H23V17H25V16H29V15Z"/>
<path fill="#ebc900" d="M27 16H37V17H40V18H42V19H43V20H44V21H45V22H46V24H47V27H48V37H47V40H46V41H45V43H44V44H42V45H41V46H39V47H35V48H29V47H25V46H23V45H22V44H21V43H20V42H19V41H18V39H17V35H16V28H17V25H18V23H19V21H20V20H21V19H23V18H24V17H27V16Z"/>
<path fill="#eeb700" d="M30 16H35V17H39V18H41V19H42V20H43V21H44V22H45V23H46V25H47V30H48V34H47V38H46V40H45V42H44V43H43V44H41V45H40V46H37V47H27V46H25V45H23V44H22V43H21V42H20V41H19V39H18V37H17V27H18V24H19V22H20V21H21V20H22V19H24V18H26V17H30V16Z"/>
<path fill="#f0a500" d="M28 17H37V18H39V19H41V20H42V21H43V22H44V23H45V25H46V27H47V36H46V39H45V41H44V42H43V43H42V44H40V45H38V46H34V47H30V46H26V45H24V44H23V43H21V41H20V40H19V38H18V34H17V29H18V26H19V24H20V22H21V21H22V20H23V19H25V18H28V17Z"/>
<path fill="#f18f00" d="M32 17H33V18H38V19H40V20H41V21H43V23H44V24H45V26H46V37H45V40H44V41H43V42H42V43H41V44H39V45H37V46H28V45H25V44H24V43H22V42H21V40H20V39H19V36H18V27H19V25H20V23H21V22H22V21H23V20H24V19H26V18H32V17Z"/>
<path fill="#f27a00" d="M28 18H36V19H39V20H41V21H42V22H43V23H44V25H45V28H46V35H45V38H44V40H43V41H42V42H41V43H40V44H38V45H27V44H25V43H23V42H22V41H21V39H20V37H19V26H20V24H21V23H22V22H23V21H24V20H26V19H28V18Z"/>
<path fill="#f26300" d="M27 19H37V20H39V21H41V22H42V23H43V25H44V27H45V37H44V39H43V40H42V41H41V42H40V43H39V44H36V45H29V44H26V43H24V42H23V41H22V40H21V38H20V35H19V28H20V25H21V24H22V22H24V21H25V20H27V19Z"/>
<path fill="#f24a00" d="M29 19H35V20H38V21H40V22H41V23H42V24H43V26H44V29H45V35H44V38H43V39H42V41H41V42H39V43H37V44H27V43H25V42H24V41H23V40H22V39H21V37H20V27H21V25H22V23H23V22H24V21H26V20H29V19Z"/>
<path fill="#f23200" d="M28 20H37V21H39V22H40V23H41V24H42V25H43V27H44V36H43V38H42V40H41V41H40V42H38V43H35V44H29V43H26V42H25V41H24V40H23V39H22V38H21V35H20V29H21V26H22V24H23V23H24V22H26V21H28V20Z"/>
<path fill="#f01a00" d="M30 20H34V21H38V22H39V23H40V24H41V25H42V26H43V30H44V34H43V37H42V39H41V40H40V41H39V42H36V43H28V42H26V41H24V40H23V38H22V36H21V27H22V25H23V24H24V23H25V22H27V21H30V20Z"/>
<path fill="#ee0d00" d="M28 21H36V22H38V23H40V24H41V26H42V28H43V36H42V38H41V39H40V40H39V41H37V42H34V43H30V42H27V41H25V40H24V39H23V37H22V34H21V30H22V27H23V25H24V24H25V23H26V22H28V21Z"/>
<path fill="#ec0700" d="M32 21H33V22H37V23H39V24H40V25H41V27H42V37H41V38H40V39H39V40H38V41H36V42H29V41H26V40H25V39H24V38H23V35H22V28H23V26H24V25H25V24H26V23H27V22H32V21Z"/>
<path fill="#e90200" d="M29 22H35V23H38V24H39V25H40V26H41V29H42V35H41V37H40V39H38V40H37V41H28V40H26V39H25V38H24V36H23V32H22V31H23V27H24V26H25V24H27V23H29V22Z"/>
<path fill="#e50000" d="M28 23H36V24H38V25H39V26H40V28H41V36H40V38H39V39H37V40H35V41H29V40H27V39H26V38H25V37H24V35H23V29H24V27H25V25H26V24H28V23Z"/>
<path fill="#e00000" d="M30 23H35V24H37V25H38V26H39V27H40V29H41V34H40V37H39V38H38V39H36V40H28V39H27V38H26V37H25V36H24V28H25V26H26V25H27V24H30V23Z"/>
<path fill="#db0000" d="M29 24H36V25H37V26H38V27H39V28H40V35H39V37H38V38H37V39H34V40H30V39H28V38H26V36H25V34H24V29H25V27H26V26H27V25H29V24Z"/>
<path fill="#d60000" d="M31 24H34V25H36V26H38V28H39V30H40V33H39V36H38V37H37V38H36V39H29V38H27V37H26V35H25V28H26V27H27V26H28V25H31V24Z"/>
<path fill="#d20000" d="M29 25H35V26H37V27H38V29H39V35H38V36H37V37H36V38H34V39H31V38H28V37H27V36H26V33H25V30H26V28H27V27H28V26H29V25Z"/>
<path fill="#cf0000" d="M32 25H33V26H36V27H37V28H38V35H37V37H35V38H29V37H28V36H27V35H26V29H27V27H29V26H32V25Z"/>
<path fill="#cc0000" d="M30 26H35V27H36V28H37V29H38V34H37V36H36V37H29V36H28V35H27V32H26V31H27V28H28V27H30V26Z"/>
<path fill="#ca0000" d="M29 27H35V28H36V29H37V35H36V36H34V37H30V36H28V34H27V30H28V28H29V27Z"/>
<path fill="#c80000" d="M30 27H34V28H36V30H37V33H36V35H35V36H29V35H28V29H29V28H30V27Z"/>
<path fill="#c60000" d="M30 28H35V29H36V34H35V35H34V36H31V35H29V33H28V30H29V29H30V28Z"/>
<path fill="#c40000" d="M31 28H33V29H35V31H36V33H35V34H34V35H30V34H29V30H30V29H31V28Z"/>
<path fill="#c30000" d="M30 29H34V30H35V34H33V35H31V34H30V33H29V31H30V29Z"/>
<path fill="#c20000" d="M30 30H34V34H31V33H30V30Z"/>
<path fill="#c10000" d="M31 30H33V31H34V33H31V30Z"/>
<path fill="#c00000" d="M31 31H33V33H31V31Z"/>
<path fill="#c00000" d="M32 31H33V32H32V31Z"/>
</g></g>
<path d="M1430.50 713.30V1088.30" fill="none" stroke="#888" stroke-width="1.3"/>
<path d="M1431.10 1087.50H1807.10" fill="none" stroke="#1c0078" stroke-width="1" opacity="0.7"/>
<rect x="1824.40" y="750.00" width="34.40" height="271.00" fill="url(#cb)"/>
<text x="1864.70" y="759.10" font-family="'Liberation Serif','Noto Serif CJK SC',serif" font-size="17.8" fill="#3a3a3a">0.000</text>
<text x="1864.70" y="785.92" font-family="'Liberation Serif','Noto Serif CJK SC',serif" font-size="17.8" fill="#3a3a3a" textLength="59.1" lengthAdjust="spacingAndGlyphs">−0.0091</text>
<text x="1864.70" y="812.74" font-family="'Liberation Serif','Noto Serif CJK SC',serif" font-size="17.8" fill="#3a3a3a" textLength="59.1" lengthAdjust="spacingAndGlyphs">−0.0183</text>
<text x="1864.70" y="839.56" font-family="'Liberation Serif','Noto Serif CJK SC',serif" font-size="17.8" fill="#3a3a3a" textLength="59.1" lengthAdjust="spacingAndGlyphs">−0.0274</text>
<text x="1864.70" y="866.38" font-family="'Liberation Serif','Noto Serif CJK SC',serif" font-size="17.8" fill="#3a3a3a" textLength="59.1" lengthAdjust="spacingAndGlyphs">−0.0366</text>
<text x="1864.70" y="893.20" font-family="'Liberation Serif','Noto Serif CJK SC',serif" font-size="17.8" fill="#3a3a3a" textLength="59.1" lengthAdjust="spacingAndGlyphs">−0.0457</text>
<text x="1864.70" y="920.02" font-family="'Liberation Serif','Noto Serif CJK SC',serif" font-size="17.8" fill="#3a3a3a" textLength="59.1" lengthAdjust="spacingAndGlyphs">−0.0549</text>
<text x="1864.70" y="946.84" font-family="'Liberation Serif','Noto Serif CJK SC',serif" font-size="17.8" fill="#3a3a3a" textLength="59.1" lengthAdjust="spacingAndGlyphs">−0.0640</text>
<text x="1864.70" y="973.66" font-family="'Liberation Serif','Noto Serif CJK SC',serif" font-size="17.8" fill="#3a3a3a" textLength="59.1" lengthAdjust="spacingAndGlyphs">−0.0732</text>
<text x="1864.70" y="1000.48" font-family="'Liberation Serif','Noto Serif CJK SC',serif" font-size="17.8" fill="#3a3a3a" textLength="59.1" lengthAdjust="spacingAndGlyphs">−0.0823</text>
<text x="1864.70" y="1027.30" font-family="'Liberation Serif','Noto Serif CJK SC',serif" font-size="17.8" fill="#3a3a3a" textLength="59.1" lengthAdjust="spacingAndGlyphs">−0.0915</text>
<text x="1860.90" y="1057.00" font-family="'DejaVu Sans Mono','Liberation Mono',monospace" font-size="13.9" fill="#333">Waves</text>
<text x="1505.70" y="705.70" font-family="'Liberation Serif','Noto Serif CJK SC',serif" font-size="40.5" font-weight="bold" fill="#000">OBJ：</text>
<text x="1624.20" y="705.70" font-family="'Liberation Serif','Noto Serif CJK SC',serif" font-size="40.5" font-weight="bold" fill="#000">−</text>
<text x="1658.80" y="705.70" font-family="'Liberation Serif','Noto Serif CJK SC',serif" font-size="40.5" font-weight="bold" fill="#000">1.66°</text>
<text x="1424.50" y="729.00" font-family="'Liberation Serif','Noto Serif CJK SC',serif" font-size="21" fill="#3a3a3a" text-anchor="end">1.0</text>
<text x="1426.80" y="912.30" font-family="'Liberation Serif','Noto Serif CJK SC',serif" font-size="21" fill="#3a3a3a" text-anchor="end">0</text>
<text x="1424.50" y="1102.00" font-family="'Liberation Serif','Noto Serif CJK SC',serif" font-size="21" fill="#3a3a3a" text-anchor="end">−1.0</text>
<text x="1432.80" y="1117.00" font-family="'Liberation Serif','Noto Serif CJK SC',serif" font-size="21" fill="#3a3a3a" text-anchor="middle">−1.0</text>
<text x="1619.60" y="1117.00" font-family="'Liberation Serif','Noto Serif CJK SC',serif" font-size="21" fill="#3a3a3a" text-anchor="middle">0</text>
<text x="1808.30" y="1117.00" font-family="'Liberation Serif','Noto Serif CJK SC',serif" font-size="21" fill="#3a3a3a" text-anchor="middle">1.0</text>
<text x="1501.20" y="1142.00" font-family="'DejaVu Sans Mono','Liberation Mono',monospace" font-size="19.98" fill="#3a3a3a">X-Pupil (Rel. Units)</text>
<text transform="translate(1342.50 1021.00) rotate(-90)" font-family="'DejaVu Sans Mono','Liberation Mono',monospace" font-size="19.98" fill="#3a3a3a">Y-Pupil (Rel. Units)</text>
<text x="1422.20" y="1183.50" font-family="'Liberation Serif','Noto Serif CJK SC',serif" font-size="40.6" font-weight="bold" fill="#000">Peak to valley = 0.0915 λ</text>
<text x="1497.20" y="1232.40" font-family="'Liberation Serif','Noto Serif CJK SC',serif" font-size="40.6" font-weight="bold" fill="#000">RMS = 0.0259 λ</text>
</svg></body></html>
